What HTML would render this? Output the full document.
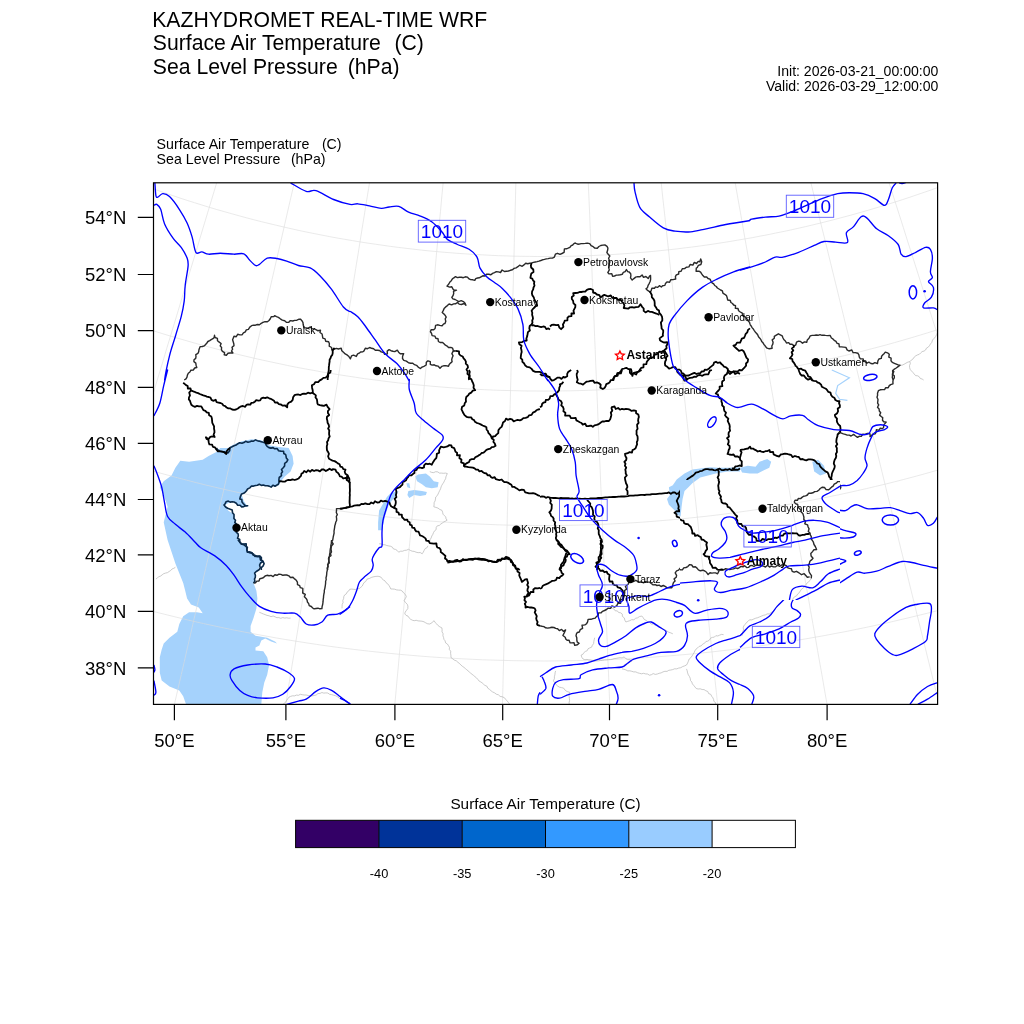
<!DOCTYPE html>
<html><head><meta charset="utf-8"><title>KAZHYDROMET REAL-TIME WRF</title><style>
html,body{margin:0;padding:0;background:#fff;width:1024px;height:1024px;overflow:hidden}
svg{display:block}
text{font-family:"Liberation Sans",Arial,Helvetica,sans-serif;fill:#000}
</style></head><body>
<svg width="1024" height="1024" viewBox="0 0 1024 1024">
<rect width="1024" height="1024" fill="#fff"/>
<g font-size="21.2">
<text x="152.2" y="27">KAZHYDROMET REAL-TIME WRF</text>
<text x="152.8" y="50.3">Surface Air Temperature</text>
<text x="394.5" y="50.3">(C)</text>
<text x="152.8" y="73.7">Sea Level Pressure</text>
<text x="347.7" y="73.7">(hPa)</text>
</g>
<g font-size="14.07">
<text x="777.3" y="75.7">Init: 2026-03-21_00:00:00</text>
<text x="765.9" y="91.1">Valid: 2026-03-29_12:00:00</text>
</g>
<g font-size="14.2">
<text x="156.6" y="148.6">Surface Air Temperature</text>
<text x="321.9" y="148.6">(C)</text>
<text x="156.6" y="164.2">Sea Level Pressure</text>
<text x="290.9" y="164.2">(hPa)</text>
</g>
<defs><clipPath id="mc"><rect x="153.5" y="182.8" width="784.1" height="521.6"/></clipPath><clipPath id="ex"><path clip-rule="evenodd" d="M0 0H1024V1024H0ZM680 480V600H840V480Z"/></clipPath><clipPath id="pc0"><rect x="680" y="480" width="160" height="120"/></clipPath></defs>
<g clip-path="url(#mc)">
<g fill="#a5d2fc" stroke="none">
<path d="M180.3 460.8 L189.1 461.8 L202.7 459.8 L208.6 455.9 L216.4 452.0 L220.3 448.1 L228.1 448.1 L234.0 444.2 L241.8 441.3 L251.6 439.3 L261.3 440.3 L269.1 445.2 L278.9 447.1 L288.7 448.1 L292.6 455.9 L293.6 463.8 L290.6 471.6 L284.8 476.4 L280.9 481.3 L278.9 485.2 L271.1 486.2 L263.3 485.2 L255.5 485.2 L249.6 487.2 L245.7 491.1 L241.8 495.0 L243.8 500.9 L247.7 506.7 L241.8 506.7 L232.0 500.9 L225.2 504.8 L228.1 510.6 L234.0 514.5 L235.9 524.3 L237.9 540.0 L239.8 542.9 L245.7 543.9 L247.7 551.7 L255.5 555.6 L261.3 557.6 L262.3 561.5 L259.4 567.3 L255.5 573.2 L253.5 583.0 L256.4 590.8 L257.4 598.6 L256.4 608.4 L253.5 618.1 L250.6 625.9 L250.6 631.8 L255.5 635.7 L267.2 637.7 L275.0 641.6 L277.0 643.5 L271.1 641.6 L265.2 638.6 L261.3 640.6 L259.4 645.5 L255.5 647.4 L255.5 650.4 L263.3 651.3 L267.2 657.2 L269.1 665.0 L267.2 674.8 L264.3 682.6 L262.3 692.3 L261.3 704.5 L186.1 704.5 L183.2 696.2 L179.3 690.4 L169.5 686.5 L161.7 680.6 L159.8 672.8 L159.8 657.2 L161.7 649.4 L163.7 643.5 L169.5 637.7 L177.3 631.8 L179.3 624.0 L183.2 616.2 L189.1 612.3 L196.9 612.3 L202.7 613.2 L198.8 607.4 L191.0 604.5 L187.1 598.6 L185.2 590.8 L183.2 583.0 L179.3 573.2 L175.4 563.4 L171.5 551.7 L167.6 540.0 L163.7 522.3 L167.6 506.7 L163.7 495.0 L159.8 487.2 L163.7 481.3 L171.5 475.5 L175.4 467.7Z"/>
<path d="M415.2 476.4 L418.1 474.5 L425.9 473.5 L429.8 476.4 L433.8 481.3 L438.6 482.3 L437.7 487.2 L431.8 488.2 L425.9 487.2 L422.0 484.3 L417.1 481.3Z"/>
<path d="M408.4 491.1 L414.2 490.1 L422.0 491.1 L426.9 492.1 L425.9 495.0 L420.1 496.0 L414.2 495.0 L409.3 497.9 L407.4 495.0Z"/>
<path d="M406.4 483.3 L409.3 483.3 L410.3 488.2 L407.4 487.2Z"/>
<path d="M379.1 510.6 L386.9 497.0 L390.8 493.0 L398.6 491.1 L394.7 497.0 L388.8 504.8 L384.9 516.5 L382.0 530.2 L378.1 530.2 L378.1 522.3Z"/>
<path d="M668.9 487.2 L672.8 485.2 L676.7 479.4 L684.5 473.5 L692.3 469.6 L700.2 468.6 L709.9 467.3 L717.7 467.7 L727.5 467.7 L740.0 467.3 L740.0 471.6 L727.5 471.6 L715.8 473.5 L708.0 475.5 L700.2 477.4 L692.3 483.3 L688.4 487.2 L684.5 491.1 L682.6 498.9 L681.6 506.7 L680.6 516.5 L676.7 514.5 L674.8 510.6 L668.9 504.8 L667.0 498.9 L669.9 495.0Z"/>
<path d="M740.0 467.7 L747.8 465.7 L755.6 466.7 L759.5 461.8 L767.3 458.9 L771.2 461.8 L769.3 467.7 L763.4 470.6 L757.6 473.5 L749.8 473.5 L742.0 472.5Z"/>
<path d="M812.3 461.8 L818.1 459.8 L824.0 465.7 L825.9 473.5 L820.1 475.5 L814.2 471.6Z"/>
</g>
<g fill="none" stroke="#a5d2fc" stroke-width="1.2">
<path d="M831.8 370.0 L849.4 377.8 L837.7 385.6 L835.7 393.4 L839.6 399.3 L847.4 400.3"/>
</g>
<g fill="none" stroke="#dcdcdc" stroke-width="0.6">
<path d="M-276.7 904.9 L-270.6 891.6 L-264.6 878.4 L-258.6 865.2 L-252.7 852.0 L-246.7 838.9 L-240.8 825.8 L-234.9 812.8 L-228.9 799.8 L-223.1 786.8 L-217.2 773.9 L-211.3 761.0 L-205.5 748.1 L-199.7 735.3 L-193.9 722.4 L-188.1 709.7 L-182.3 696.9 L-176.5 684.2 L-170.8 671.5 L-165.0 658.9 L-159.3 646.2 L-153.6 633.6 L-147.9 621.1 L-142.2 608.5 L-136.5 596.0 L-130.8 583.4 L-125.1 571.0 L-119.5 558.5 L-113.8 546.0 L-108.2 533.6 L-102.5 521.2 L-96.9 508.8 L-91.3 496.4 L-85.7 484.1 L-80.1 471.7 L-74.5 459.4 L-68.9 447.0 L-63.3 434.7 L-57.7 422.4 L-52.2 410.1 L-46.6 397.9 L-41.0 385.6 L-35.5 373.3 L-29.9 361.1 L-24.3 348.8 L-18.8 336.6 L-13.2 324.3 L-7.7 312.1 L-2.1 299.9 L3.4 287.6 L9.0 275.4 L14.5 263.2 L20.1 250.9 L25.6 238.7 L31.2 226.5 L36.7 214.2 L42.3 202.0 L47.9 189.7 L53.4 177.5 L59.0 165.2 L64.6 152.9 L70.1 140.6 L75.7 128.3 L81.3 116.0 L86.9 103.7 L92.5 91.3 L98.1 79.0 L103.7 66.6 L109.3 54.2 L115.0 41.8 L120.6 29.4 L126.3 16.9 L131.9 4.4 L137.6 -8.1 L143.3 -20.6 L149.0 -33.1 L154.7 -45.7 L160.4 -58.3 L166.2 -71.0 L171.9 -83.7 L177.7 -96.4 L183.5 -109.1"/>
<path d="M-154.3 955.6 L-149.2 941.9 L-144.1 928.3 L-139.0 914.7 L-133.9 901.2 L-128.8 887.7 L-123.8 874.3 L-118.7 860.9 L-113.7 847.5 L-108.7 834.2 L-103.7 820.9 L-98.7 807.6 L-93.8 794.4 L-88.8 781.2 L-83.9 768.0 L-78.9 754.9 L-74.0 741.8 L-69.1 728.7 L-64.2 715.7 L-59.3 702.6 L-54.4 689.7 L-49.6 676.7 L-44.7 663.8 L-39.9 650.9 L-35.0 638.0 L-30.2 625.1 L-25.4 612.3 L-20.6 599.5 L-15.7 586.7 L-10.9 573.9 L-6.2 561.1 L-1.4 548.4 L3.4 535.6 L8.2 522.9 L13.0 510.2 L17.7 497.6 L22.5 484.9 L27.2 472.2 L32.0 459.6 L36.7 447.0 L41.5 434.3 L46.2 421.7 L50.9 409.1 L55.7 396.5 L60.4 383.9 L65.1 371.3 L69.8 358.7 L74.6 346.2 L79.3 333.6 L84.0 321.0 L88.7 308.4 L93.5 295.9 L98.2 283.3 L102.9 270.7 L107.6 258.1 L112.4 245.5 L117.1 232.9 L121.8 220.3 L126.6 207.7 L131.3 195.1 L136.0 182.5 L140.8 169.9 L145.5 157.2 L150.3 144.6 L155.0 131.9 L159.8 119.2 L164.6 106.5 L169.3 93.8 L174.1 81.1 L178.9 68.3 L183.7 55.5 L188.5 42.7 L193.3 29.9 L198.2 17.0 L203.0 4.2 L207.9 -8.8 L212.7 -21.7 L217.6 -34.7 L222.5 -47.7 L227.4 -60.7 L232.3 -73.8 L237.2 -86.9"/>
<path d="M-28.8 998.0 L-24.6 984.0 L-20.4 970.1 L-16.2 956.2 L-12.1 942.4 L-7.9 928.6 L-3.8 914.8 L0.3 901.1 L4.5 887.4 L8.6 873.8 L12.7 860.2 L16.8 846.6 L20.8 833.1 L24.9 819.6 L29.0 806.1 L33.0 792.7 L37.0 779.3 L41.1 765.9 L45.1 752.6 L49.1 739.3 L53.1 726.0 L57.1 712.7 L61.1 699.5 L65.0 686.3 L69.0 673.1 L73.0 660.0 L76.9 646.8 L80.9 633.7 L84.8 620.6 L88.8 607.6 L92.7 594.5 L96.6 581.5 L100.5 568.5 L104.4 555.5 L108.4 542.5 L112.3 529.5 L116.2 516.5 L120.1 503.6 L124.0 490.7 L127.9 477.7 L131.7 464.8 L135.6 451.9 L139.5 439.0 L143.4 426.2 L147.3 413.3 L151.1 400.4 L155.0 387.5 L158.9 374.7 L162.8 361.8 L166.6 348.9 L170.5 336.1 L174.4 323.2 L178.3 310.3 L182.1 297.5 L186.0 284.6 L189.9 271.7 L193.8 258.9 L197.7 246.0 L201.5 233.1 L205.4 220.2 L209.3 207.3 L213.2 194.4 L217.1 181.4 L221.0 168.5 L224.9 155.5 L228.8 142.5 L232.7 129.5 L236.6 116.5 L240.6 103.5 L244.5 90.5 L248.4 77.4 L252.4 64.3 L256.3 51.2 L260.3 38.0 L264.3 24.8 L268.2 11.6 L272.2 -1.6 L276.2 -14.8 L280.2 -28.1 L284.2 -41.5 L288.3 -54.9 L292.3 -68.3"/>
<path d="M99.2 1031.9 L102.4 1017.7 L105.7 1003.5 L109.0 989.4 L112.2 975.3 L115.4 961.3 L118.6 947.3 L121.8 933.3 L125.0 919.4 L128.2 905.5 L131.4 891.7 L134.6 877.9 L137.7 864.1 L140.9 850.3 L144.0 836.6 L147.2 823.0 L150.3 809.3 L153.4 795.7 L156.6 782.2 L159.7 768.6 L162.8 755.1 L165.9 741.6 L169.0 728.1 L172.1 714.7 L175.1 701.3 L178.2 687.9 L181.3 674.5 L184.4 661.2 L187.4 647.8 L190.5 634.5 L193.5 621.3 L196.6 608.0 L199.6 594.7 L202.7 581.5 L205.7 568.3 L208.7 555.1 L211.8 541.9 L214.8 528.7 L217.8 515.6 L220.8 502.4 L223.9 489.3 L226.9 476.1 L229.9 463.0 L232.9 449.9 L235.9 436.8 L238.9 423.7 L241.9 410.6 L244.9 397.5 L247.9 384.4 L251.0 371.3 L254.0 358.2 L257.0 345.1 L260.0 332.0 L263.0 318.9 L266.0 305.8 L269.0 292.7 L272.0 279.6 L275.0 266.5 L278.0 253.4 L281.1 240.2 L284.1 227.1 L287.1 213.9 L290.1 200.8 L293.2 187.6 L296.2 174.4 L299.2 161.2 L302.3 148.0 L305.3 134.7 L308.3 121.5 L311.4 108.2 L314.5 94.9 L317.5 81.6 L320.6 68.2 L323.7 54.8 L326.7 41.4 L329.8 28.0 L332.9 14.5 L336.0 1.0 L339.1 -12.5 L342.2 -26.1 L345.4 -39.7 L348.5 -53.4"/>
<path d="M229.2 1057.3 L231.5 1042.9 L233.8 1028.5 L236.1 1014.2 L238.4 999.9 L240.7 985.7 L242.9 971.5 L245.2 957.4 L247.5 943.3 L249.7 929.2 L252.0 915.2 L254.2 901.2 L256.5 887.2 L258.7 873.3 L260.9 859.4 L263.1 845.6 L265.4 831.8 L267.6 818.0 L269.8 804.2 L272.0 790.5 L274.2 776.8 L276.4 763.1 L278.6 749.5 L280.7 735.9 L282.9 722.3 L285.1 708.7 L287.3 695.2 L289.4 681.6 L291.6 668.1 L293.8 654.7 L295.9 641.2 L298.1 627.8 L300.2 614.3 L302.4 600.9 L304.5 587.5 L306.7 574.2 L308.8 560.8 L311.0 547.5 L313.1 534.1 L315.3 520.8 L317.4 507.5 L319.5 494.2 L321.7 480.9 L323.8 467.6 L325.9 454.3 L328.1 441.0 L330.2 427.8 L332.3 414.5 L334.4 401.2 L336.6 388.0 L338.7 374.7 L340.8 361.4 L343.0 348.2 L345.1 334.9 L347.2 321.6 L349.3 308.4 L351.5 295.1 L353.6 281.8 L355.7 268.5 L357.9 255.2 L360.0 241.9 L362.1 228.6 L364.3 215.2 L366.4 201.9 L368.6 188.5 L370.7 175.1 L372.9 161.7 L375.0 148.3 L377.2 134.9 L379.3 121.4 L381.5 108.0 L383.7 94.4 L385.8 80.9 L388.0 67.4 L390.2 53.8 L392.4 40.2 L394.6 26.5 L396.8 12.8 L399.0 -0.9 L401.2 -14.6 L403.4 -28.4 L405.6 -42.2"/>
<path d="M360.6 1073.9 L361.9 1059.3 L363.3 1044.9 L364.6 1030.4 L365.9 1016.0 L367.3 1001.7 L368.6 987.4 L369.9 973.1 L371.2 958.9 L372.5 944.7 L373.8 930.6 L375.2 916.5 L376.5 902.4 L377.8 888.4 L379.1 874.4 L380.3 860.4 L381.6 846.5 L382.9 832.5 L384.2 818.7 L385.5 804.8 L386.8 791.0 L388.1 777.2 L389.3 763.5 L390.6 749.8 L391.9 736.0 L393.1 722.4 L394.4 708.7 L395.7 695.1 L396.9 681.5 L398.2 667.9 L399.4 654.3 L400.7 640.7 L402.0 627.2 L403.2 613.7 L404.5 600.2 L405.7 586.7 L407.0 573.2 L408.2 559.8 L409.4 546.3 L410.7 532.9 L411.9 519.4 L413.2 506.0 L414.4 492.6 L415.7 479.2 L416.9 465.8 L418.1 452.4 L419.4 439.0 L420.6 425.7 L421.9 412.3 L423.1 398.9 L424.3 385.5 L425.6 372.2 L426.8 358.8 L428.1 345.4 L429.3 332.0 L430.5 318.6 L431.8 305.2 L433.0 291.8 L434.3 278.4 L435.5 265.0 L436.7 251.6 L438.0 238.2 L439.2 224.7 L440.5 211.2 L441.7 197.8 L443.0 184.3 L444.2 170.8 L445.5 157.2 L446.7 143.7 L448.0 130.1 L449.3 116.5 L450.5 102.9 L451.8 89.3 L453.1 75.6 L454.3 61.9 L455.6 48.2 L456.9 34.4 L458.1 20.6 L459.4 6.8 L460.7 -7.1 L462.0 -21.0 L463.3 -34.9"/>
<path d="M492.8 1081.7 L493.2 1067.1 L493.5 1052.6 L493.9 1038.1 L494.3 1023.6 L494.6 1009.2 L495.0 994.9 L495.4 980.5 L495.7 966.3 L496.1 952.0 L496.5 937.8 L496.8 923.6 L497.2 909.5 L497.6 895.4 L497.9 881.4 L498.3 867.4 L498.6 853.4 L499.0 839.4 L499.4 825.5 L499.7 811.6 L500.1 797.7 L500.4 783.9 L500.8 770.1 L501.1 756.3 L501.5 742.5 L501.8 728.8 L502.2 715.1 L502.5 701.4 L502.9 687.7 L503.2 674.1 L503.6 660.4 L503.9 646.8 L504.3 633.2 L504.6 619.7 L505.0 606.1 L505.3 592.6 L505.7 579.0 L506.0 565.5 L506.4 552.0 L506.7 538.5 L507.1 525.1 L507.4 511.6 L507.8 498.1 L508.1 484.7 L508.4 471.2 L508.8 457.8 L509.1 444.3 L509.5 430.9 L509.8 417.5 L510.2 404.1 L510.5 390.6 L510.9 377.2 L511.2 363.8 L511.6 350.3 L511.9 336.9 L512.2 323.5 L512.6 310.0 L512.9 296.6 L513.3 283.1 L513.6 269.6 L514.0 256.2 L514.3 242.7 L514.7 229.2 L515.0 215.6 L515.4 202.1 L515.7 188.6 L516.1 175.0 L516.4 161.4 L516.7 147.8 L517.1 134.2 L517.4 120.5 L517.8 106.9 L518.2 93.2 L518.5 79.5 L518.9 65.7 L519.2 51.9 L519.6 38.1 L519.9 24.3 L520.3 10.4 L520.6 -3.6 L521.0 -17.5 L521.4 -31.5"/>
<path d="M625.2 1080.7 L624.6 1066.1 L624.0 1051.6 L623.4 1037.1 L622.8 1022.6 L622.2 1008.2 L621.7 993.9 L621.1 979.6 L620.5 965.3 L619.9 951.1 L619.3 936.9 L618.7 922.7 L618.1 908.6 L617.6 894.5 L617.0 880.5 L616.4 866.4 L615.8 852.5 L615.3 838.5 L614.7 824.6 L614.1 810.7 L613.6 796.8 L613.0 783.0 L612.4 769.2 L611.9 755.4 L611.3 741.7 L610.7 727.9 L610.2 714.2 L609.6 700.6 L609.0 686.9 L608.5 673.3 L607.9 659.6 L607.4 646.0 L606.8 632.5 L606.2 618.9 L605.7 605.3 L605.1 591.8 L604.6 578.3 L604.0 564.8 L603.5 551.3 L602.9 537.8 L602.4 524.3 L601.8 510.9 L601.3 497.4 L600.7 484.0 L600.2 470.5 L599.6 457.1 L599.0 443.7 L598.5 430.2 L597.9 416.8 L597.4 403.4 L596.8 390.0 L596.3 376.5 L595.7 363.1 L595.2 349.7 L594.6 336.3 L594.1 322.8 L593.5 309.4 L593.0 295.9 L592.4 282.5 L591.9 269.0 L591.3 255.6 L590.8 242.1 L590.2 228.6 L589.7 215.1 L589.1 201.5 L588.5 188.0 L588.0 174.5 L587.4 160.9 L586.9 147.3 L586.3 133.7 L585.8 120.0 L585.2 106.4 L584.6 92.7 L584.1 78.9 L583.5 65.2 L582.9 51.4 L582.4 37.6 L581.8 23.8 L581.2 9.9 L580.7 -4.0 L580.1 -18.0 L579.5 -32.0"/>
<path d="M757.3 1070.8 L755.7 1056.3 L754.2 1041.9 L752.6 1027.4 L751.0 1013.1 L749.5 998.7 L747.9 984.5 L746.4 970.2 L744.9 956.0 L743.3 941.9 L741.8 927.7 L740.3 913.6 L738.8 899.6 L737.2 885.6 L735.7 871.6 L734.2 857.7 L732.7 843.7 L731.2 829.9 L729.7 816.0 L728.2 802.2 L726.7 788.4 L725.2 774.6 L723.8 760.9 L722.3 747.2 L720.8 733.5 L719.3 719.9 L717.8 706.2 L716.4 692.6 L714.9 679.0 L713.4 665.4 L712.0 651.9 L710.5 638.4 L709.0 624.8 L707.6 611.3 L706.1 597.9 L704.7 584.4 L703.2 570.9 L701.7 557.5 L700.3 544.1 L698.8 530.6 L697.4 517.2 L695.9 503.8 L694.5 490.5 L693.0 477.1 L691.6 463.7 L690.2 450.3 L688.7 437.0 L687.3 423.6 L685.8 410.3 L684.4 396.9 L682.9 383.5 L681.5 370.2 L680.0 356.8 L678.6 343.5 L677.1 330.1 L675.7 316.7 L674.3 303.4 L672.8 290.0 L671.4 276.6 L669.9 263.2 L668.5 249.8 L667.0 236.4 L665.6 223.0 L664.1 209.5 L662.6 196.1 L661.2 182.6 L659.7 169.1 L658.3 155.6 L656.8 142.1 L655.3 128.5 L653.9 114.9 L652.4 101.3 L650.9 87.7 L649.4 74.1 L648.0 60.4 L646.5 46.7 L645.0 33.0 L643.5 19.2 L642.0 5.4 L640.5 -8.5 L639.0 -22.4 L637.5 -36.3"/>
<path d="M888.4 1052.2 L885.9 1037.8 L883.4 1023.5 L880.8 1009.2 L878.3 995.0 L875.8 980.8 L873.3 966.6 L870.8 952.5 L868.4 938.5 L865.9 924.4 L863.4 910.5 L861.0 896.5 L858.5 882.6 L856.1 868.7 L853.6 854.9 L851.2 841.0 L848.8 827.3 L846.3 813.5 L843.9 799.8 L841.5 786.1 L839.1 772.4 L836.7 758.8 L834.3 745.2 L831.9 731.6 L829.5 718.1 L827.1 704.5 L824.7 691.0 L822.4 677.5 L820.0 664.1 L817.6 650.6 L815.3 637.2 L812.9 623.8 L810.5 610.4 L808.2 597.0 L805.8 583.7 L803.5 570.3 L801.1 557.0 L798.8 543.7 L796.4 530.4 L794.1 517.1 L791.7 503.8 L789.4 490.6 L787.1 477.3 L784.7 464.0 L782.4 450.8 L780.1 437.6 L777.7 424.3 L775.4 411.1 L773.1 397.9 L770.7 384.6 L768.4 371.4 L766.1 358.2 L763.7 344.9 L761.4 331.7 L759.1 318.5 L756.7 305.2 L754.4 292.0 L752.1 278.7 L749.7 265.5 L747.4 252.2 L745.0 238.9 L742.7 225.6 L740.4 212.3 L738.0 199.0 L735.7 185.7 L733.3 172.3 L731.0 159.0 L728.6 145.6 L726.2 132.2 L723.9 118.8 L721.5 105.3 L719.1 91.9 L716.7 78.4 L714.4 64.9 L712.0 51.3 L709.6 37.7 L707.2 24.1 L704.8 10.5 L702.4 -3.2 L699.9 -16.9 L697.5 -30.7 L695.1 -44.5"/>
<path d="M1018.0 1024.9 L1014.5 1010.7 L1011.0 996.6 L1007.6 982.5 L1004.1 968.5 L1000.7 954.5 L997.2 940.5 L993.8 926.6 L990.4 912.7 L987.0 898.9 L983.6 885.1 L980.2 871.3 L976.9 857.6 L973.5 843.9 L970.1 830.3 L966.8 816.7 L963.4 803.1 L960.1 789.5 L956.8 776.0 L953.5 762.5 L950.1 749.0 L946.8 735.6 L943.5 722.2 L940.2 708.8 L937.0 695.4 L933.7 682.1 L930.4 668.7 L927.1 655.4 L923.9 642.2 L920.6 628.9 L917.3 615.7 L914.1 602.5 L910.8 589.3 L907.6 576.1 L904.4 562.9 L901.1 549.8 L897.9 536.6 L894.7 523.5 L891.4 510.4 L888.2 497.3 L885.0 484.2 L881.8 471.1 L878.6 458.0 L875.3 444.9 L872.1 431.9 L868.9 418.8 L865.7 405.8 L862.5 392.7 L859.3 379.7 L856.1 366.6 L852.9 353.6 L849.7 340.5 L846.4 327.5 L843.2 314.4 L840.0 301.4 L836.8 288.3 L833.6 275.3 L830.4 262.2 L827.2 249.1 L824.0 236.1 L820.7 223.0 L817.5 209.9 L814.3 196.7 L811.1 183.6 L807.8 170.5 L804.6 157.3 L801.3 144.1 L798.1 130.9 L794.8 117.7 L791.6 104.5 L788.3 91.2 L785.1 78.0 L781.8 64.7 L778.5 51.3 L775.2 38.0 L771.9 24.6 L768.6 11.2 L765.3 -2.3 L762.0 -15.8 L758.7 -29.3 L755.3 -42.9 L752.0 -56.5"/>
<path d="M1145.5 989.0 L1141.1 975.1 L1136.6 961.2 L1132.3 947.4 L1127.9 933.6 L1123.5 919.9 L1119.2 906.2 L1114.8 892.5 L1110.5 878.9 L1106.2 865.3 L1101.9 851.8 L1097.6 838.3 L1093.3 824.8 L1089.0 811.4 L1084.7 798.0 L1080.5 784.6 L1076.3 771.3 L1072.0 758.0 L1067.8 744.7 L1063.6 731.5 L1059.4 718.3 L1055.2 705.1 L1051.0 691.9 L1046.8 678.8 L1042.6 665.6 L1038.5 652.5 L1034.3 639.5 L1030.2 626.4 L1026.0 613.4 L1021.9 600.4 L1017.8 587.4 L1013.6 574.4 L1009.5 561.5 L1005.4 548.5 L1001.3 535.6 L997.2 522.7 L993.1 509.8 L989.0 496.9 L984.9 484.0 L980.8 471.2 L976.7 458.3 L972.6 445.5 L968.6 432.7 L964.5 419.8 L960.4 407.0 L956.3 394.2 L952.2 381.4 L948.2 368.6 L944.1 355.8 L940.0 343.0 L936.0 330.2 L931.9 317.4 L927.8 304.6 L923.7 291.8 L919.7 279.0 L915.6 266.2 L911.5 253.3 L907.4 240.5 L903.4 227.7 L899.3 214.8 L895.2 202.0 L891.1 189.1 L887.0 176.3 L882.9 163.4 L878.8 150.5 L874.7 137.6 L870.6 124.6 L866.5 111.7 L862.3 98.7 L858.2 85.7 L854.1 72.7 L849.9 59.7 L845.8 46.6 L841.6 33.5 L837.4 20.4 L833.3 7.3 L829.1 -5.9 L824.9 -19.1 L820.7 -32.3 L816.4 -45.6 L812.2 -58.9 L808.0 -72.2"/>
<path d="M1270.3 944.6 L1264.9 931.0 L1259.6 917.5 L1254.3 904.0 L1249.0 890.6 L1243.7 877.2 L1238.5 863.8 L1233.2 850.5 L1228.0 837.2 L1222.8 823.9 L1217.6 810.7 L1212.4 797.5 L1207.3 784.3 L1202.1 771.2 L1197.0 758.1 L1191.8 745.1 L1186.7 732.1 L1181.6 719.1 L1176.5 706.1 L1171.4 693.2 L1166.3 680.3 L1161.3 667.4 L1156.2 654.5 L1151.2 641.7 L1146.1 628.9 L1141.1 616.1 L1136.1 603.3 L1131.1 590.6 L1126.1 577.9 L1121.1 565.2 L1116.1 552.5 L1111.1 539.8 L1106.1 527.2 L1101.2 514.5 L1096.2 501.9 L1091.2 489.3 L1086.3 476.7 L1081.3 464.1 L1076.4 451.5 L1071.5 439.0 L1066.5 426.4 L1061.6 413.9 L1056.7 401.4 L1051.7 388.8 L1046.8 376.3 L1041.9 363.8 L1037.0 351.3 L1032.1 338.8 L1027.1 326.3 L1022.2 313.8 L1017.3 301.3 L1012.4 288.8 L1007.5 276.3 L1002.6 263.8 L997.6 251.3 L992.7 238.8 L987.8 226.2 L982.9 213.7 L977.9 201.2 L973.0 188.6 L968.1 176.1 L963.1 163.5 L958.2 151.0 L953.3 138.4 L948.3 125.8 L943.3 113.2 L938.4 100.6 L933.4 87.9 L928.4 75.2 L923.4 62.6 L918.4 49.9 L913.4 37.1 L908.4 24.4 L903.4 11.6 L898.4 -1.2 L893.3 -14.0 L888.3 -26.9 L883.2 -39.8 L878.1 -52.7 L873.0 -65.7 L867.9 -78.7 L862.8 -91.7"/>
<path d="M-327.3 719.4 L-316.5 725.2 L-305.6 730.9 L-294.7 736.5 L-283.7 742.1 L-272.7 747.5 L-261.7 753.0 L-250.6 758.3 L-239.5 763.6 L-228.4 768.7 L-217.2 773.9 L-206.0 778.9 L-194.7 783.9 L-183.5 788.8 L-172.2 793.6 L-160.8 798.3 L-149.5 803.0 L-138.1 807.6 L-126.6 812.1 L-115.2 816.5 L-103.7 820.9 L-92.2 825.1 L-80.6 829.3 L-69.1 833.5 L-57.5 837.5 L-45.8 841.5 L-34.2 845.4 L-22.5 849.2 L-10.8 852.9 L0.9 856.6 L12.7 860.2 L24.4 863.7 L36.2 867.1 L48.1 870.5 L59.9 873.7 L71.8 876.9 L83.7 880.0 L95.6 883.1 L107.5 886.0 L119.4 888.9 L131.4 891.7 L143.4 894.4 L155.4 897.0 L167.4 899.6 L179.4 902.0 L191.5 904.4 L203.6 906.7 L215.6 909.0 L227.7 911.1 L239.9 913.2 L252.0 915.2 L264.1 917.1 L276.3 918.9 L288.4 920.6 L300.6 922.3 L312.8 923.9 L325.0 925.4 L337.2 926.8 L349.4 928.1 L361.6 929.4 L373.8 930.6 L386.1 931.7 L398.3 932.7 L410.6 933.6 L422.8 934.4 L435.1 935.2 L447.4 935.9 L459.6 936.5 L471.9 937.0 L484.2 937.5 L496.5 937.8 L508.8 938.1 L521.0 938.3 L533.3 938.4 L545.6 938.4 L557.9 938.4 L570.2 938.2 L582.5 938.0 L594.8 937.7 L607.0 937.3 L619.3 936.9 L631.6 936.3 L643.9 935.7 L656.1 935.0 L668.4 934.2 L680.6 933.3 L692.9 932.4 L705.1 931.3 L717.4 930.2 L729.6 929.0 L741.8 927.7 L754.0 926.4 L766.2 924.9 L778.4 923.4 L790.6 921.8 L802.8 920.1 L814.9 918.3 L827.1 916.5 L839.2 914.6 L851.3 912.5 L863.4 910.5 L875.5 908.3 L887.6 906.0 L899.7 903.7 L911.7 901.3 L923.7 898.8 L935.7 896.2 L947.7 893.6 L959.7 890.8 L971.7 888.0 L983.6 885.1 L995.5 882.1 L1007.4 879.1 L1019.3 875.9 L1031.2 872.7 L1043.0 869.4 L1054.8 866.1 L1066.6 862.6 L1078.4 859.1 L1090.1 855.5 L1101.9 851.8 L1113.6 848.0 L1125.2 844.2 L1136.9 840.3 L1148.5 836.3 L1160.1 832.2 L1171.6 828.1 L1183.2 823.8 L1194.7 819.5 L1206.2 815.1 L1217.6 810.7 L1229.0 806.2 L1240.4 801.5 L1251.8 796.9 L1263.1 792.1 L1274.4 787.3 L1285.7 782.3 L1296.9 777.4 L1308.1 772.3 L1319.2 767.2 L1330.4 761.9 L1341.5 756.7"/>
<path d="M-261.0 595.9 L-251.0 601.3 L-240.9 606.5 L-230.9 611.7 L-220.7 616.9 L-210.6 621.9 L-200.4 626.9 L-190.2 631.9 L-179.9 636.7 L-169.6 641.5 L-159.3 646.2 L-148.9 650.9 L-138.6 655.5 L-128.1 660.0 L-117.7 664.4 L-107.2 668.8 L-96.7 673.1 L-86.2 677.4 L-75.6 681.5 L-65.0 685.6 L-54.4 689.7 L-43.8 693.6 L-33.1 697.5 L-22.4 701.3 L-11.7 705.1 L-1.0 708.7 L9.8 712.3 L20.6 715.9 L31.4 719.3 L42.2 722.7 L53.1 726.0 L64.0 729.2 L74.9 732.4 L85.8 735.5 L96.7 738.5 L107.7 741.5 L118.7 744.3 L129.7 747.1 L140.7 749.9 L151.7 752.5 L162.8 755.1 L173.9 757.6 L184.9 760.0 L196.0 762.4 L207.2 764.7 L218.3 766.9 L229.5 769.0 L240.6 771.1 L251.8 773.0 L263.0 775.0 L274.2 776.8 L285.4 778.6 L296.6 780.2 L307.9 781.8 L319.1 783.4 L330.4 784.8 L341.6 786.2 L352.9 787.5 L364.2 788.8 L375.5 789.9 L386.8 791.0 L398.1 792.0 L409.4 793.0 L420.7 793.8 L432.0 794.6 L443.4 795.3 L454.7 795.9 L466.0 796.5 L477.4 797.0 L488.7 797.4 L500.1 797.7 L511.4 798.0 L522.8 798.1 L534.1 798.3 L545.5 798.3 L556.8 798.2 L568.2 798.1 L579.5 797.9 L590.9 797.6 L602.2 797.3 L613.6 796.8 L624.9 796.3 L636.2 795.8 L647.6 795.1 L658.9 794.4 L670.2 793.6 L681.5 792.7 L692.8 791.7 L704.1 790.7 L715.4 789.6 L726.7 788.4 L738.0 787.1 L749.3 785.8 L760.5 784.4 L771.8 782.9 L783.0 781.4 L794.3 779.7 L805.5 778.0 L816.7 776.2 L827.9 774.4 L839.1 772.4 L850.3 770.4 L861.4 768.4 L872.6 766.2 L883.7 764.0 L894.8 761.7 L905.9 759.3 L917.0 756.8 L928.1 754.3 L939.1 751.7 L950.1 749.0 L961.2 746.3 L972.2 743.5 L983.1 740.6 L994.1 737.6 L1005.0 734.5 L1015.9 731.4 L1026.8 728.2 L1037.7 725.0 L1048.6 721.7 L1059.4 718.3 L1070.2 714.8 L1081.0 711.2 L1091.7 707.6 L1102.5 703.9 L1113.2 700.1 L1123.9 696.3 L1134.5 692.4 L1145.1 688.4 L1155.7 684.4 L1166.3 680.3 L1176.9 676.1 L1187.4 671.8 L1197.9 667.5 L1208.4 663.1 L1218.8 658.6 L1229.2 654.1 L1239.6 649.5 L1249.9 644.8 L1260.2 640.0 L1270.5 635.2 L1280.7 630.4"/>
<path d="M-196.1 474.9 L-186.9 479.8 L-177.6 484.7 L-168.3 489.5 L-159.0 494.2 L-149.7 498.8 L-140.3 503.4 L-130.9 508.0 L-121.5 512.4 L-112.0 516.9 L-102.5 521.2 L-93.0 525.5 L-83.5 529.7 L-73.9 533.8 L-64.3 537.9 L-54.7 542.0 L-45.0 545.9 L-35.3 549.8 L-25.6 553.6 L-15.9 557.4 L-6.2 561.1 L3.6 564.7 L13.4 568.3 L23.3 571.8 L33.1 575.3 L43.0 578.6 L52.9 581.9 L62.8 585.2 L72.7 588.4 L82.7 591.5 L92.7 594.5 L102.7 597.5 L112.7 600.4 L122.7 603.2 L132.8 606.0 L142.9 608.7 L153.0 611.4 L163.1 613.9 L173.2 616.4 L183.4 618.9 L193.5 621.3 L203.7 623.6 L213.9 625.8 L224.1 628.0 L234.3 630.1 L244.6 632.1 L254.8 634.0 L265.1 635.9 L275.4 637.8 L285.6 639.5 L295.9 641.2 L306.2 642.8 L316.6 644.4 L326.9 645.9 L337.2 647.3 L347.6 648.6 L357.9 649.9 L368.3 651.1 L378.7 652.2 L389.1 653.3 L399.4 654.3 L409.8 655.2 L420.2 656.1 L430.6 656.9 L441.1 657.6 L451.5 658.2 L461.9 658.8 L472.3 659.3 L482.7 659.8 L493.2 660.1 L503.6 660.4 L514.0 660.7 L524.5 660.8 L534.9 660.9 L545.3 661.0 L555.8 660.9 L566.2 660.8 L576.6 660.6 L587.1 660.4 L597.5 660.0 L607.9 659.6 L618.3 659.2 L628.8 658.6 L639.2 658.0 L649.6 657.4 L660.0 656.6 L670.4 655.8 L680.8 654.9 L691.2 654.0 L701.6 653.0 L712.0 651.9 L722.3 650.7 L732.7 649.5 L743.0 648.2 L753.4 646.8 L763.7 645.4 L774.1 643.9 L784.4 642.3 L794.7 640.7 L805.0 639.0 L815.3 637.2 L825.5 635.4 L835.8 633.4 L846.0 631.5 L856.3 629.4 L866.5 627.3 L876.7 625.1 L886.9 622.9 L897.0 620.5 L907.2 618.1 L917.3 615.7 L927.5 613.2 L937.6 610.6 L947.7 607.9 L957.7 605.2 L967.8 602.4 L977.8 599.5 L987.8 596.6 L997.8 593.6 L1007.8 590.5 L1017.8 587.4 L1027.7 584.2 L1037.6 580.9 L1047.5 577.6 L1057.4 574.2 L1067.2 570.8 L1077.0 567.2 L1086.8 563.6 L1096.6 560.0 L1106.4 556.3 L1116.1 552.5 L1125.8 548.6 L1135.4 544.7 L1145.1 540.7 L1154.7 536.7 L1164.3 532.6 L1173.9 528.4 L1183.4 524.2 L1192.9 519.9 L1202.4 515.5 L1211.8 511.1 L1221.3 506.6"/>
<path d="M-132.0 355.6 L-123.6 360.1 L-115.2 364.5 L-106.7 368.9 L-98.2 373.2 L-89.6 377.5 L-81.1 381.7 L-72.5 385.8 L-63.9 389.9 L-55.3 393.9 L-46.6 397.9 L-37.9 401.8 L-29.2 405.6 L-20.4 409.4 L-11.7 413.2 L-2.9 416.8 L6.0 420.4 L14.8 424.0 L23.7 427.5 L32.5 430.9 L41.5 434.3 L50.4 437.6 L59.3 440.9 L68.3 444.1 L77.3 447.3 L86.3 450.3 L95.4 453.4 L104.4 456.3 L113.5 459.2 L122.6 462.1 L131.7 464.8 L140.9 467.6 L150.0 470.2 L159.2 472.8 L168.4 475.3 L177.6 477.8 L186.8 480.2 L196.1 482.6 L205.3 484.9 L214.6 487.1 L223.9 489.3 L233.2 491.4 L242.5 493.4 L251.8 495.4 L261.1 497.3 L270.5 499.2 L279.8 500.9 L289.2 502.7 L298.6 504.3 L308.0 505.9 L317.4 507.5 L326.8 509.0 L336.2 510.4 L345.7 511.7 L355.1 513.0 L364.6 514.3 L374.0 515.4 L383.5 516.5 L393.0 517.6 L402.4 518.5 L411.9 519.4 L421.4 520.3 L430.9 521.1 L440.4 521.8 L449.9 522.4 L459.5 523.0 L469.0 523.6 L478.5 524.0 L488.0 524.4 L497.5 524.8 L507.1 525.1 L516.6 525.3 L526.1 525.4 L535.7 525.5 L545.2 525.5 L554.7 525.5 L564.3 525.4 L573.8 525.2 L583.3 525.0 L592.8 524.7 L602.4 524.3 L611.9 523.9 L621.4 523.4 L630.9 522.9 L640.4 522.3 L649.9 521.6 L659.4 520.8 L668.9 520.0 L678.4 519.2 L687.9 518.2 L697.4 517.2 L706.9 516.2 L716.3 515.1 L725.8 513.9 L735.2 512.6 L744.7 511.3 L754.1 510.0 L763.5 508.5 L772.9 507.0 L782.4 505.5 L791.7 503.8 L801.1 502.1 L810.5 500.4 L819.9 498.6 L829.2 496.7 L838.5 494.8 L847.8 492.8 L857.2 490.7 L866.4 488.6 L875.7 486.4 L885.0 484.2 L894.2 481.9 L903.5 479.5 L912.7 477.1 L921.9 474.6 L931.1 472.0 L940.2 469.4 L949.4 466.7 L958.5 464.0 L967.6 461.2 L976.7 458.3 L985.8 455.4 L994.8 452.4 L1003.9 449.4 L1012.9 446.3 L1021.9 443.1 L1030.9 439.9 L1039.8 436.6 L1048.7 433.3 L1057.6 429.9 L1066.5 426.4 L1075.4 422.9 L1084.2 419.3 L1093.0 415.7 L1101.8 412.0 L1110.6 408.3 L1119.3 404.4 L1128.0 400.6 L1136.7 396.7 L1145.4 392.7 L1154.0 388.6 L1162.6 384.5"/>
<path d="M-68.4 237.1 L-60.8 241.2 L-53.1 245.2 L-45.5 249.2 L-37.8 253.1 L-30.0 256.9 L-22.3 260.7 L-14.5 264.5 L-6.7 268.2 L1.1 271.8 L9.0 275.4 L16.9 278.9 L24.8 282.4 L32.7 285.9 L40.6 289.3 L48.6 292.6 L56.6 295.9 L64.6 299.1 L72.6 302.3 L80.7 305.4 L88.7 308.4 L96.8 311.4 L104.9 314.4 L113.1 317.3 L121.2 320.1 L129.4 322.9 L137.6 325.7 L145.8 328.4 L154.0 331.0 L162.3 333.6 L170.5 336.1 L178.8 338.5 L187.1 340.9 L195.4 343.3 L203.7 345.6 L212.1 347.8 L220.4 350.0 L228.8 352.1 L237.2 354.2 L245.6 356.2 L254.0 358.2 L262.4 360.1 L270.8 361.9 L279.3 363.7 L287.7 365.5 L296.2 367.2 L304.7 368.8 L313.2 370.3 L321.7 371.9 L330.2 373.3 L338.7 374.7 L347.2 376.0 L355.8 377.3 L364.3 378.6 L372.9 379.7 L381.4 380.8 L390.0 381.9 L398.6 382.9 L407.2 383.8 L415.7 384.7 L424.3 385.5 L432.9 386.3 L441.5 387.0 L450.2 387.7 L458.8 388.3 L467.4 388.8 L476.0 389.3 L484.6 389.7 L493.3 390.1 L501.9 390.4 L510.5 390.6 L519.1 390.8 L527.8 391.0 L536.4 391.0 L545.1 391.1 L553.7 391.0 L562.3 390.9 L571.0 390.8 L579.6 390.6 L588.2 390.3 L596.8 390.0 L605.5 389.6 L614.1 389.1 L622.7 388.6 L631.3 388.1 L639.9 387.5 L648.5 386.8 L657.1 386.1 L665.7 385.3 L674.3 384.4 L682.9 383.5 L691.5 382.6 L700.1 381.6 L708.7 380.5 L717.2 379.4 L725.8 378.2 L734.3 376.9 L742.8 375.6 L751.4 374.3 L759.9 372.9 L768.4 371.4 L776.9 369.9 L785.4 368.3 L793.9 366.6 L802.3 365.0 L810.8 363.2 L819.2 361.4 L827.7 359.5 L836.1 357.6 L844.5 355.6 L852.9 353.6 L861.2 351.5 L869.6 349.3 L878.0 347.1 L886.3 344.9 L894.6 342.6 L902.9 340.2 L911.2 337.8 L919.5 335.3 L927.7 332.8 L936.0 330.2 L944.2 327.5 L952.4 324.8 L960.6 322.1 L968.7 319.3 L976.9 316.4 L985.0 313.5 L993.1 310.5 L1001.2 307.5 L1009.3 304.4 L1017.3 301.3 L1025.3 298.1 L1033.3 294.9 L1041.3 291.6 L1049.3 288.2 L1057.2 284.8 L1065.1 281.4 L1073.0 277.9 L1080.9 274.3 L1088.7 270.7 L1096.5 267.0 L1104.3 263.3"/>
<path d="M-4.8 118.6 L2.1 122.3 L8.9 125.8 L15.8 129.4 L22.7 132.9 L29.6 136.3 L36.6 139.7 L43.5 143.1 L50.5 146.4 L57.5 149.7 L64.6 152.9 L71.6 156.1 L78.7 159.2 L85.8 162.3 L92.9 165.3 L100.0 168.3 L107.2 171.2 L114.4 174.1 L121.6 177.0 L128.8 179.8 L136.0 182.5 L143.3 185.2 L150.6 187.9 L157.8 190.4 L165.1 193.0 L172.5 195.5 L179.8 198.0 L187.2 200.4 L194.5 202.7 L201.9 205.0 L209.3 207.3 L216.7 209.5 L224.2 211.6 L231.6 213.7 L239.1 215.8 L246.5 217.8 L254.0 219.8 L261.5 221.7 L269.0 223.5 L276.5 225.3 L284.1 227.1 L291.6 228.8 L299.2 230.5 L306.8 232.1 L314.3 233.6 L321.9 235.1 L329.5 236.6 L337.1 238.0 L344.7 239.3 L352.4 240.6 L360.0 241.9 L367.7 243.1 L375.3 244.2 L383.0 245.3 L390.6 246.4 L398.3 247.4 L406.0 248.3 L413.7 249.2 L421.4 250.1 L429.0 250.9 L436.7 251.6 L444.5 252.3 L452.2 252.9 L459.9 253.5 L467.6 254.0 L475.3 254.5 L483.0 254.9 L490.8 255.3 L498.5 255.7 L506.2 255.9 L514.0 256.2 L521.7 256.3 L529.4 256.4 L537.2 256.5 L544.9 256.5 L552.6 256.5 L560.4 256.4 L568.1 256.3 L575.9 256.1 L583.6 255.9 L591.3 255.6 L599.0 255.2 L606.8 254.8 L614.5 254.4 L622.2 253.9 L629.9 253.3 L637.7 252.7 L645.4 252.1 L653.1 251.4 L660.8 250.6 L668.5 249.8 L676.1 249.0 L683.8 248.0 L691.5 247.1 L699.2 246.1 L706.8 245.0 L714.5 243.9 L722.1 242.7 L729.8 241.5 L737.4 240.2 L745.0 238.9 L752.7 237.6 L760.3 236.1 L767.9 234.7 L775.4 233.1 L783.0 231.6 L790.6 230.0 L798.1 228.3 L805.7 226.6 L813.2 224.8 L820.7 223.0 L828.2 221.1 L835.7 219.2 L843.2 217.2 L850.7 215.2 L858.1 213.1 L865.6 211.0 L873.0 208.8 L880.4 206.6 L887.8 204.3 L895.2 202.0 L902.6 199.6 L909.9 197.2 L917.2 194.7 L924.6 192.2 L931.8 189.7 L939.1 187.0 L946.4 184.4 L953.6 181.7 L960.9 178.9 L968.1 176.1 L975.3 173.2 L982.4 170.3 L989.6 167.4 L996.7 164.4 L1003.8 161.3 L1010.9 158.3 L1018.0 155.1 L1025.0 151.9 L1032.1 148.7 L1039.1 145.4 L1046.1 142.1"/>
<path d="M59.4 -0.9 L65.4 2.3 L71.5 5.5 L77.5 8.6 L83.6 11.7 L89.7 14.8 L95.9 17.8 L102.0 20.7 L108.2 23.7 L114.4 26.5 L120.6 29.4 L126.8 32.2 L133.1 34.9 L139.4 37.7 L145.6 40.3 L151.9 43.0 L158.3 45.6 L164.6 48.1 L171.0 50.6 L177.3 53.1 L183.7 55.5 L190.1 57.9 L196.5 60.2 L203.0 62.5 L209.4 64.8 L215.9 67.0 L222.4 69.2 L228.9 71.3 L235.4 73.4 L241.9 75.4 L248.4 77.4 L255.0 79.3 L261.5 81.2 L268.1 83.1 L274.7 84.9 L281.3 86.7 L287.9 88.4 L294.5 90.1 L301.2 91.7 L307.8 93.3 L314.5 94.9 L321.1 96.4 L327.8 97.9 L334.5 99.3 L341.2 100.6 L347.9 102.0 L354.6 103.3 L361.3 104.5 L368.0 105.7 L374.8 106.8 L381.5 108.0 L388.2 109.0 L395.0 110.0 L401.8 111.0 L408.5 111.9 L415.3 112.8 L422.1 113.6 L428.9 114.4 L435.7 115.2 L442.5 115.9 L449.3 116.5 L456.1 117.1 L462.9 117.7 L469.7 118.2 L476.5 118.7 L483.3 119.1 L490.1 119.5 L497.0 119.8 L503.8 120.1 L510.6 120.3 L517.4 120.5 L524.3 120.7 L531.1 120.8 L537.9 120.9 L544.8 120.9 L551.6 120.9 L558.4 120.8 L565.3 120.7 L572.1 120.5 L578.9 120.3 L585.8 120.0 L592.6 119.7 L599.4 119.4 L606.2 119.0 L613.0 118.5 L619.9 118.1 L626.7 117.5 L633.5 116.9 L640.3 116.3 L647.1 115.7 L653.9 114.9 L660.7 114.2 L667.4 113.4 L674.2 112.5 L681.0 111.6 L687.8 110.7 L694.5 109.7 L701.3 108.7 L708.0 107.6 L714.8 106.5 L721.5 105.3 L728.2 104.1 L734.9 102.9 L741.6 101.6 L748.3 100.2 L755.0 98.8 L761.7 97.4 L768.4 95.9 L775.0 94.4 L781.7 92.8 L788.3 91.2 L795.0 89.6 L801.6 87.9 L808.2 86.1 L814.8 84.4 L821.4 82.5 L827.9 80.7 L834.5 78.7 L841.0 76.8 L847.6 74.8 L854.1 72.7 L860.6 70.6 L867.1 68.5 L873.5 66.3 L880.0 64.1 L886.4 61.8 L892.9 59.5 L899.3 57.2 L905.7 54.8 L912.1 52.3 L918.4 49.9 L924.8 47.3 L931.1 44.8 L937.4 42.2 L943.7 39.5 L950.0 36.8 L956.3 34.1 L962.5 31.3 L968.7 28.5 L974.9 25.7 L981.1 22.8 L987.3 19.8"/>
</g>
<g fill="none" stroke="#b4b4b4" stroke-width="0.7" stroke-linejoin="round">
<g clip-path="url(#ex)">
<path d="M900.2 365.5 L902.3 365.1 L904.2 364.2 L906.0 363.1 L907.9 362.1 L909.9 361.6 L911.3 360.1 L913.1 358.9 L914.2 357.1 L915.8 355.8 L917.5 354.9 L919.3 354.3 L920.7 352.9 L922.1 351.6 L924.0 351.1 L925.6 350.0 L926.4 348.2 L928.3 347.1 L929.5 345.6 L930.5 343.9 L931.8 342.4 L932.5 340.0 L934.2 338.3 L935.7 336.5 L936.7 334.4 L937.7 332.3"/>
<path d="M909.9 361.6 L910.3 363.6 L909.5 365.6 L909.6 367.5 L910.1 369.3 L911.4 370.9 L912.9 372.4 L914.2 374.0 L915.6 375.6 L917.6 375.8 L919.2 376.7 L920.3 378.5 L922.1 379.0 L923.6 380.0"/>
<path d="M429.8 471.6 L431.7 472.4 L433.7 472.6 L435.7 471.7 L437.7 471.9 L439.5 473.1 L441.5 473.1 L443.5 473.3 L445.5 473.1 L447.3 473.5 L446.6 475.2 L445.9 476.9 L445.6 478.8 L444.6 480.4 L443.9 482.1 L442.8 483.7 L441.8 485.3 L441.1 486.9 L440.6 488.8 L439.7 490.5 L438.9 492.2 L438.1 494.0 L437.2 495.7 L435.7 497.0 L435.5 499.0 L435.1 500.9 L434.1 502.7 L434.1 504.8 L433.8 506.8 L435.9 507.4 L438.0 508.1 L439.7 509.4 L442.0 510.4 L442.6 512.2 L443.0 514.2 L444.3 515.6 L445.8 516.9 L446.0 519.0 L447.2 520.1 L445.6 521.1 L443.9 521.9 L442.4 523.0 L440.8 524.0 L439.4 525.4 L437.2 525.9 L436.2 527.5 L436.1 529.7 L434.5 530.9 L433.5 532.6 L432.8 534.4 L431.8 536.0 L431.1 538.0 L430.0 539.8 L429.8 541.9"/>
<path d="M379.1 543.8 L381.1 543.9 L383.0 544.7 L385.0 544.8 L386.8 545.5 L388.7 545.9 L390.7 546.3 L392.4 547.2 L393.5 549.0 L395.5 549.4 L397.1 550.4 L398.7 552.2 L400.6 551.2 L402.6 551.2 L404.5 550.4 L406.5 550.2 L408.5 549.3 L410.3 550.4 L412.2 551.2 L414.2 551.4 L416.1 552.2 L418.1 552.7 L420.2 552.5 L422.2 553.8 L423.3 552.1 L424.2 550.3 L425.1 548.6 L427.1 547.6 L427.9 545.8"/>
<path d="M155.9 579.1 L157.4 577.8 L158.9 576.7 L160.7 576.0 L162.2 574.8 L163.7 573.7 L165.5 573.1 L167.5 572.6 L169.1 571.5 L170.7 570.5 L172.0 569.0 L173.8 568.3 L175.4 567.3"/>
<path d="M259.4 612.3 L261.3 613.1 L263.2 613.9 L265.1 614.6 L267.0 615.4 L269.1 615.8 L271.0 616.7 L273.1 616.0 L275.0 616.8 L276.9 617.7 L278.9 617.6 L280.8 618.3 L282.8 617.6 L284.8 618.1 L286.7 617.8 L288.7 618.2 L290.6 618.1"/>
<path d="M282.8 704.5 L284.4 703.4 L285.7 702.0 L286.7 700.3 L287.8 698.8 L288.9 697.2 L290.6 696.4 L292.5 695.8 L294.5 695.9 L296.4 695.1 L298.5 695.3 L300.3 694.3 L302.2 694.7 L304.2 695.0 L306.2 695.0 L308.2 695.5 L310.1 696.0 L312.0 695.9 L314.1 695.5 L316.2 695.0 L317.9 693.6 L320.1 693.4 L321.9 692.5 L323.8 693.1 L325.8 692.9 L327.8 693.0 L329.6 694.3 L331.4 694.6 L333.6 695.2 L335.8 695.8 L337.7 696.9 L339.5 698.2"/>
<path d="M342.0 608.4 L342.1 606.4 L342.2 604.4 L343.1 602.5 L342.8 600.5 L343.6 598.6 L343.8 596.5 L344.7 594.9 L346.3 593.9 L347.0 592.2 L348.6 591.1 L349.7 589.3 L351.7 589.1 L353.7 589.3 L355.7 589.6 L357.5 588.6 L359.2 588.6 L360.8 587.3 L362.3 586.0 L363.1 584.2 L364.1 582.5 L365.7 581.5 L367.0 579.1 L369.4 578.5 L371.2 577.5 L373.1 576.9 L375.1 576.5 L377.1 576.3 L378.9 576.4 L380.8 577.0 L381.9 578.6 L383.3 579.9 L385.0 580.9 L386.0 582.6 L387.7 583.8 L388.9 585.4 L389.9 587.0 L390.8 589.0 L392.8 589.0 L394.7 589.2 L396.6 589.9 L398.6 590.1 L400.6 590.2 L402.2 591.0 L403.6 592.9 L405.4 594.5 L406.3 596.6 L405.4 598.5 L404.1 600.7 L405.6 602.6 L407.3 604.3 L407.9 606.1 L407.8 608.6 L406.5 610.3 L405.2 612.1 L404.8 613.9 L406.1 615.4 L408.0 616.1 L409.1 617.9 L410.5 619.2 L412.3 620.2 L414.2 620.7 L416.2 620.3 L418.1 620.9 L420.0 621.0 L422.0 621.2 L424.0 621.8 L425.8 622.9 L427.7 623.8 L429.8 624.0 L431.9 622.7 L434.1 620.7 L435.2 622.6 L436.8 624.0 L438.1 625.6 L439.8 626.8 L441.9 627.9 L442.1 629.8 L442.0 631.8 L443.1 633.7 L442.9 635.7 L443.6 637.6 L443.9 639.3 L445.1 640.8 L445.6 642.9 L447.4 644.0 L448.5 645.7 L449.5 647.4 L449.3 649.4 L450.7 651.2 L450.6 653.3 L450.9 655.3 L451.0 657.6 L452.7 658.8 L454.3 660.1 L456.4 660.9 L457.9 662.3 L459.6 663.6 L461.0 665.1 L462.4 666.3 L463.9 667.3 L465.3 668.5 L466.6 669.6 L468.0 670.8 L469.3 672.0 L470.7 673.2 L472.1 674.3 L473.5 675.4 L474.9 676.6 L476.4 677.8 L477.7 679.2 L478.8 680.8 L480.5 681.8 L482.1 682.8 L483.5 684.2 L484.9 685.4 L486.8 686.1 L487.8 688.2 L489.5 689.4 L491.1 690.8 L492.7 692.0 L494.7 692.9 L496.3 694.2 L498.4 694.8 L500.1 696.4 L502.4 696.8 L504.5 697.8 L505.8 699.5 L507.3 701.1 L508.6 702.8 L509.9 704.5"/>
<path d="M612.3 608.4 L614.1 609.1 L615.2 610.8 L617.4 610.9 L618.6 612.5 L620.6 612.8 L622.3 614.1 L622.4 616.4 L624.3 617.9 L624.8 620.1 L625.9 622.0 L627.8 621.3 L629.8 620.7 L631.7 619.7 L633.9 619.8 L635.6 618.3 L637.6 617.8 L639.4 616.6 L641.8 616.0 L643.1 617.6 L644.2 619.4 L646.1 620.4 L647.6 621.6 L649.5 622.5 L651.1 624.1 L653.5 623.9 L655.2 625.3 L657.3 625.8 L659.1 627.0 L661.2 627.7 L662.9 629.0 L665.0 629.8 L666.9 631.0 L668.7 632.2 L670.8 632.9 L672.8 633.8"/>
<path d="M594.7 637.7 L594.2 639.7 L593.8 641.6 L593.6 643.7 L592.4 645.2 L591.6 647.2 L589.8 647.9 L588.0 648.8 L587.2 650.7 L585.3 651.5 L583.8 652.7 L582.8 654.4 L581.1 655.1 L581.8 657.3 L583.0 659.0 L584.9 659.7 L587.0 659.4 L588.9 659.8 L590.9 660.0 L592.7 660.8 L594.7 661.2 L596.7 660.9 L598.6 660.8 L600.5 660.5 L602.5 660.4 L604.4 660.0 L606.4 659.9 L608.4 659.7 L610.3 659.6 L612.2 659.3 L614.1 658.6 L616.1 658.4 L618.1 658.0 L620.0 657.7 L622.1 657.9 L624.2 656.9 L625.7 658.6 L627.7 659.6 L630.1 659.6 L631.9 661.2 L629.9 662.1 L628.2 663.6 L626.0 664.1 L624.0 665.0"/>
<path d="M555.6 670.9 L555.1 672.8 L554.9 674.8 L554.4 676.7 L554.4 678.7 L553.4 680.8 L554.7 682.8 L556.1 684.6 L557.7 686.1 L559.5 687.2 L561.5 687.6 L563.6 688.1 L565.1 690.2 L567.0 691.5 L569.8 692.3 L568.9 694.3 L569.2 696.4 L569.4 698.4 L569.6 700.4 L569.1 702.5 L569.3 704.5"/>
<path d="M622.0 668.9 L624.0 669.3 L625.9 669.9 L627.8 670.9 L629.9 670.8 L631.8 671.3 L633.7 671.9 L635.8 671.9 L637.7 672.8 L639.6 673.3 L641.5 673.8 L643.6 673.3 L645.5 673.9 L647.5 674.0 L649.5 675.2 L651.4 674.7 L653.2 673.6 L655.3 674.4 L657.3 674.0 L659.2 673.3 L661.1 672.9 L663.0 671.9 L664.9 671.3 L667.0 671.4 L668.8 670.3 L670.8 670.0 L672.7 669.6 L674.6 668.8 L676.7 668.9 L678.6 668.1 L680.8 667.7 L682.6 666.6 L684.6 665.9 L686.5 665.0 L687.6 663.1 L688.4 661.1 L689.2 659.0 L690.9 657.6 L692.0 656.0 L693.0 654.3 L694.1 652.7 L694.9 650.8 L696.0 649.1 L697.7 647.9 L699.1 646.4 L701.3 645.8 L702.7 644.1 L704.6 643.2 L705.9 641.5 L707.9 641.1 L709.5 640.0 L710.6 638.1 L712.4 637.4 L714.4 637.1 L715.8 635.7 L717.8 636.0 L719.7 635.1 L721.6 634.4 L723.6 634.7"/>
<path d="M686.5 668.9 L687.2 670.8 L687.6 672.9 L688.3 674.8 L689.5 676.6 L690.3 678.5 L690.5 680.5 L691.8 682.0 L692.4 683.9 L693.7 685.4 L694.9 686.9 L696.2 688.5 L698.1 689.0 L700.2 688.8 L702.1 689.5 L704.1 689.6 L705.7 690.7 L707.8 691.5 L708.7 693.6 L710.8 694.4 L711.7 696.3 L712.9 697.8 L713.6 699.5 L713.9 701.4 L715.5 702.6 L715.8 704.5"/>
<path d="M808.4 579.1 L807.1 580.8 L805.3 581.8 L803.8 583.3 L802.2 584.6 L801.2 586.4 L799.6 587.5 L798.1 588.8 L796.5 589.9 L794.6 590.6 L793.3 592.1 L791.4 592.7 L790.0 594.0 L788.3 594.9 L786.6 595.7 L784.6 596.4 L783.6 598.1 L783.0 600.1 L781.6 601.5 L780.6 603.2 L778.7 604.2 L777.6 605.8 L776.4 607.4 L775.2 608.9 L774.1 610.6 L773.0 611.8 L771.1 612.6 L769.4 613.9 L767.2 613.9 L765.4 614.9 L763.4 615.3 L761.5 616.1 L759.6 616.9 L757.7 617.7 L755.7 618.2 L753.8 619.0 L751.9 619.9 L749.5 619.8 L748.1 621.3 L746.4 622.6 L745.2 624.3 L743.8 625.9 L743.2 627.8 L743.6 629.9 L742.6 631.7 L742.4 633.8 L742.0 635.7"/>
</g>
<g clip-path="url(#pc0)">
<path d="M811.2 578.4 L810.3 580.2 L808.8 581.6 L807.2 582.9 L806.0 584.5 L804.8 586.0 L803.5 587.8 L801.6 589.1 L800.3 590.9 L799.2 592.8 L797.6 594.0 L796.7 595.8 L794.6 596.7 L793.3 598.2 L792.5 600.0"/>
</g>
</g>
<g fill="none" stroke="#2a2a2a" stroke-width="1.4" stroke-linejoin="round">
<g clip-path="url(#ex)">
<path d="M184.2 380.0 L186.0 378.9 L187.0 377.2 L187.4 375.1 L188.3 373.3 L189.9 372.0 L190.9 370.2 L193.3 370.0 L194.7 368.0 L196.8 367.5 L196.1 365.4 L195.8 363.1 L193.9 361.6 L194.0 359.7 L195.7 358.4 L196.0 356.6 L195.8 354.6 L197.9 353.4 L198.7 351.8 L198.9 350.0 L199.3 348.8 L200.2 346.6 L202.4 346.5 L204.2 345.9 L205.6 344.4 L206.9 343.0 L207.9 341.5 L209.7 340.6 L211.2 339.6 L212.9 338.7 L214.2 337.4 L214.5 335.3 L215.0 337.5 L217.4 338.4 L217.5 340.8 L219.2 342.1 L221.1 343.5 L220.2 345.9 L221.6 347.5 L221.4 349.6 L222.4 351.3 L224.6 352.6 L224.2 354.8 L226.4 355.2 L228.0 353.3 L230.0 353.0 L232.9 353.0 L231.5 351.0 L232.6 349.2 L232.0 347.3 L234.0 345.6 L233.8 343.7 L233.2 341.8 L232.6 339.8 L233.3 338.0 L234.0 336.2 L236.2 336.7 L237.7 334.3 L239.9 334.9 L242.2 334.7 L243.4 332.9 L245.3 331.9 L246.3 329.9 L248.4 329.3 L249.8 327.1 L251.6 325.7 L253.5 325.1 L255.5 325.2 L257.4 324.5 L259.5 324.7 L261.2 323.3 L263.0 322.4 L265.0 321.6 L267.4 321.8 L269.0 320.5 L270.3 318.8 L271.2 316.8 L273.8 316.6 L274.6 315.6 L276.5 316.7 L278.4 317.4 L280.3 318.8 L282.3 320.1 L284.7 320.7 L286.6 322.4 L288.8 322.3 L290.4 320.6 L292.8 321.0 L294.6 320.4 L296.9 320.2 L299.1 319.2 L300.4 319.1 L301.9 320.7 L303.0 322.6 L303.2 324.7 L304.0 327.7 L306.0 327.9 L308.0 328.1 L310.4 327.0 L312.0 328.7 L314.1 328.9 L315.9 329.7 L317.7 330.7 L320.5 330.2 L320.0 332.5 L322.1 334.0 L322.4 335.7 L322.8 338.2 L325.1 338.9 L325.7 341.2 L328.6 341.7 L329.4 343.7 L329.2 346.2 L331.6 347.5 L331.7 350.0 L334.4 349.0 L336.5 348.4 L338.4 349.0 L341.2 348.1 L341.8 350.8 L343.5 352.3 L345.2 353.9 L347.0 354.9 L348.6 356.2 L350.4 358.8 L351.5 355.9 L353.5 355.1 L356.3 356.4 L357.6 353.9 L359.2 353.2 L360.6 352.0 L362.9 351.7 L364.0 350.9 L365.3 348.3 L367.5 348.7 L369.7 347.5 L371.6 348.3 L373.6 348.8 L375.3 350.2 L377.5 350.2 L379.5 350.5 L381.2 351.9 L383.8 352.5 L384.5 354.2 L387.4 353.9 L387.2 351.1 L389.1 349.6 L391.0 350.7 L392.9 351.2 L394.8 351.6 L397.3 350.2 L398.6 352.2 L400.3 353.8 L403.7 353.6 L402.6 356.2 L402.5 358.5 L403.8 360.3 L406.4 361.1 L408.5 362.8 L410.6 363.2 L412.8 363.3 L414.5 364.7 L416.5 365.3 L418.2 367.1 L420.3 368.5 L422.0 367.1 L423.9 366.3 L426.2 365.0 L426.3 362.3 L428.0 360.8 L430.3 361.6 L430.3 364.3 L432.1 365.1 L434.2 364.8 L436.0 365.8 L438.0 366.1 L440.0 368.2 L441.7 366.4 L443.6 365.8 L445.7 365.6 L448.5 366.3 L449.2 364.4 L450.5 363.1 L452.1 361.7 L451.7 359.6 L452.2 357.7 L453.1 355.8 L451.9 353.6 L453.2 351.2 L455.5 350.9"/>
<path d="M455.5 350.9 L453.4 350.7 L452.6 348.2 L450.8 347.4 L448.5 347.5 L447.1 346.1 L445.4 345.2 L444.0 343.8 L442.6 342.4 L440.1 342.5 L438.4 341.5 L438.0 338.7 L435.8 338.3 L434.9 336.1 L432.1 335.6 L431.5 333.2 L430.4 331.8 L431.1 329.7 L433.7 329.8 L435.1 328.5 L435.6 325.4 L437.5 324.8 L439.8 325.4 L442.1 325.8 L443.7 323.9 L445.0 323.5 L445.8 321.3 L445.2 318.8 L446.2 317.2 L445.3 315.5 L444.1 314.1 L442.2 312.5 L443.2 310.6 L444.1 308.6 L445.7 306.9 L447.4 305.6 L449.1 304.0 L451.7 304.8 L453.6 303.9 L455.5 303.8 L457.4 302.5 L459.1 304.1 L461.4 304.5 L464.2 303.5 L465.9 305.3 L465.1 303.2 L463.4 301.6 L461.2 300.7 L458.7 301.6 L456.9 300.5 L455.1 299.5 L452.9 298.9 L451.8 297.3 L453.1 295.5 L453.7 293.5 L453.5 291.3 L456.5 290.2 L454.2 290.3 L452.9 288.9 L451.8 286.7 L449.6 287.1 L447.0 286.1 L448.8 284.0 L449.9 282.0 L451.3 280.7 L452.4 278.9 L453.9 277.8 L455.5 276.7 L457.4 277.6 L459.4 277.2 L461.4 277.2 L463.3 277.7 L465.4 276.8 L467.3 277.1 L469.1 278.9 L470.6 279.6 L472.9 279.8 L474.8 280.4 L475.7 278.7 L477.6 278.0 L479.2 277.8 L481.0 276.8 L482.8 275.8 L485.0 276.0 L486.5 274.1 L488.7 274.2 L490.9 274.8 L492.6 273.4 L494.5 272.7 L496.3 271.7 L498.4 271.9 L500.5 272.5 L502.1 270.0 L504.4 271.5 L506.4 271.2 L508.4 271.0 L510.4 270.3 L512.4 269.8 L514.1 268.4 L516.1 267.8 L517.9 266.7 L519.6 265.2 L522.2 266.3 L523.9 264.9 L525.7 263.3 L527.7 263.7 L529.7 263.3 L531.6 262.9 L533.4 262.4 L535.3 262.0 L537.1 261.6 L539.0 261.1 L540.8 260.5 L542.6 259.8 L544.4 259.4 L546.3 258.9 L548.2 258.6 L550.0 258.1"/>
<path d="M550.0 258.1 L552.4 258.1 L554.4 257.1 L555.4 254.2 L557.5 253.3 L560.0 254.3 L561.9 253.5 L564.1 252.4 L564.4 248.9 L566.4 248.8 L568.1 248.1 L569.9 247.3 L570.9 245.8 L572.7 245.0 L573.9 243.6 L575.3 243.0 L577.1 244.0 L579.1 244.2 L581.2 243.6 L583.2 243.6 L585.2 243.4 L587.3 243.1 L589.7 243.6 L591.1 245.7 L593.2 246.7 L594.8 248.1 L597.3 248.2 L598.9 246.5 L600.8 245.5 L602.8 245.1 L604.9 244.9 L607.0 246.3 L607.9 248.1 L607.6 250.3 L606.9 252.5 L608.2 254.3 L609.8 256.0 L608.6 258.3 L609.3 260.2 L609.9 261.9 L609.2 263.8 L609.1 265.8 L608.7 267.7 L609.3 269.9 L607.8 272.6 L609.1 273.9 L611.8 273.8 L612.6 276.3 L614.5 276.0 L616.4 275.1 L618.4 275.0 L620.3 274.7 L622.4 274.3 L623.3 272.3 L625.2 271.6 L626.4 269.5 L627.7 271.6 L629.2 272.0 L630.7 273.7 L630.9 275.7 L630.5 277.9 L632.2 280.1 L633.9 278.6 L635.7 277.1 L637.7 276.6 L640.0 276.8 L642.1 274.9 L643.5 277.3 L645.9 276.5 L648.2 278.6 L649.4 276.3 L650.5 275.4 L650.6 277.5 L650.6 279.6 L650.1 281.5 L649.3 283.3 L648.1 285.4 L647.4 287.7 L646.0 288.8 L647.6 290.4 L650.3 292.1 L651.3 290.3 L651.9 288.1 L654.5 288.2 L655.5 286.9 L657.5 287.4 L659.4 285.7 L661.3 287.0 L662.6 285.7 L664.9 285.4 L665.5 283.4 L666.9 281.9 L669.6 282.3 L670.7 279.7 L673.1 279.6 L675.7 279.0 L675.4 276.6 L676.3 274.9 L678.7 274.0 L678.8 271.6 L681.1 271.3 L682.3 268.8 L684.6 268.6 L686.3 267.2 L688.9 266.9 L690.1 264.5 L692.9 265.1 L694.3 262.4 L696.6 263.5 L698.2 261.4 L699.8 261.8 L700.7 258.9 L701.7 261.7 L700.9 264.5 L698.4 265.3 L697.3 267.5 L696.3 268.1 L696.1 271.2 L698.9 271.1 L700.6 272.1 L701.7 273.9 L702.9 275.6 L704.3 277.0 L706.7 277.0 L708.0 278.5 L710.0 279.1 L711.0 281.1 L712.1 282.9 L713.7 283.9 L714.7 285.5 L716.3 286.5 L717.4 288.0 L719.0 289.0 L720.6 290.0 L722.4 290.9 L722.9 293.2 L724.8 294.3 L726.5 295.6 L727.2 297.8 L727.7 300.0 L730.3 300.5 L730.9 302.5 L732.5 303.5 L733.6 305.0 L735.5 305.7 L735.4 308.4 L738.0 308.5 L738.6 310.7 L740.3 312.0 L742.3 313.1 L742.6 315.5 L744.7 316.5 L746.1 318.0 L747.3 319.4 L748.3 321.1 L749.6 322.4 L750.0 324.5"/>
<path d="M750.0 324.5 L751.2 326.0 L752.1 327.6 L753.3 329.0 L754.3 330.6 L755.4 332.2 L756.7 333.5 L757.8 335.0 L758.5 336.8 L759.8 338.2 L760.9 339.7 L761.7 341.4 L763.0 342.8 L763.9 344.4 L765.1 345.8 L766.2 347.4 L767.1 348.1 L769.3 348.8 L772.1 348.2 L771.8 346.0 L772.8 344.2 L773.1 342.2 L772.2 339.9 L774.3 338.3 L774.3 336.4 L776.3 335.1 L778.4 333.8 L780.3 334.8 L782.2 335.8 L782.9 337.7 L783.8 339.5 L785.3 340.9 L786.5 343.0 L788.7 342.6 L790.0 344.2 L792.1 344.2 L794.2 345.9 L795.8 344.8 L796.5 342.2 L798.6 341.2 L800.5 341.4 L802.5 343.2 L804.5 341.9 L806.7 342.3 L807.3 339.9 L809.0 338.2 L810.2 335.9 L812.2 335.4 L814.2 335.4 L816.2 335.0 L818.1 335.3 L820.0 334.7 L822.0 335.3 L824.0 335.2 L825.4 335.4 L827.7 335.6 L830.2 335.5 L831.4 338.0 L832.9 338.9 L834.2 340.3 L836.0 341.4 L836.9 343.2 L839.0 344.0 L839.3 346.7 L841.5 346.9 L843.7 347.1 L845.9 347.4 L847.1 349.9 L848.9 351.0 L851.8 350.0 L853.0 352.5 L855.3 352.6 L857.8 353.2 L858.9 354.9 L859.3 357.2 L860.4 358.8 L863.2 358.9 L863.5 361.3 L865.0 361.5 L867.0 363.1 L868.9 362.2 L870.9 363.5 L872.8 363.8 L874.8 362.6 L877.5 363.5 L877.9 360.8 L878.9 359.0 L881.3 358.4 L881.6 356.2 L882.9 354.8 L884.3 353.4 L885.3 352.1 L887.5 352.8 L889.3 354.2 L888.8 357.1 L891.1 358.1 L891.0 360.7 L892.3 362.4 L894.4 363.3 L896.3 364.1 L898.2 364.9 L900.0 365.2 L898.1 366.6 L896.2 368.0 L894.0 369.4 L892.6 371.1 L893.0 373.4 L892.5 375.3 L892.3 377.8 L893.3 380.0"/>
<path d="M350.0 506.7 L348.3 507.6 L346.6 508.2 L344.7 507.8 L343.0 508.7 L341.2 509.2 L339.3 508.6 L336.5 508.6 L336.5 510.5 L336.3 512.5 L337.3 514.6 L336.3 516.5 L336.6 518.5 L336.6 520.5 L335.7 522.3 L335.4 524.1 L334.8 525.8 L334.6 527.6 L334.3 529.4 L334.0 531.2 L334.1 533.0 L333.7 534.8 L333.3 536.5 L333.0 538.3 L332.7 540.1 L331.7 541.7 L333.2 544.0 L331.6 545.8 L331.1 547.7 L331.1 549.7 L331.5 551.8 L330.5 553.6 L331.0 555.7 L328.7 557.3 L328.5 559.1 L329.0 561.1 L329.3 562.9 L327.6 564.5 L328.1 566.4 L327.1 568.1 L327.7 570.0"/>
<path d="M839.6 432.5 L841.5 433.2 L843.4 433.9 L845.3 434.4 L847.2 435.1 L849.3 435.1 L851.1 436.0 L853.6 434.4 L855.3 435.8 L857.5 437.4 L859.2 436.3 L861.3 436.4 L862.8 434.1 L865.0 434.4 L867.3 433.4 L869.8 433.5 L870.2 435.5 L870.0 436.6 L871.5 435.6 L872.8 434.3 L875.1 433.9 L876.0 432.3 L876.4 429.7 L878.9 430.4 L880.3 428.2 L882.6 428.6 L883.6 427.4 L883.8 424.9 L886.2 422.1 L883.7 421.7 L882.5 420.2 L882.7 417.6 L881.5 416.7 L879.6 415.1 L880.7 412.7 L879.3 411.0 L879.1 409.0 L877.5 407.3 L878.7 404.9 L877.6 403.1 L877.8 401.4 L878.0 399.5 L877.0 397.2 L877.6 395.3 L877.5 393.3 L878.4 390.7 L880.3 389.8 L882.4 389.6 L884.6 389.6 L885.7 387.7 L888.2 387.7 L889.1 385.9 L890.6 384.6 L893.0 383.9 L892.9 381.7 L893.2 379.6 L894.3 377.8 L894.3 375.7 L892.3 374.2 L893.9 371.7 L892.3 370.0"/>
<path d="M831.8 482.3 L833.5 483.7 L835.4 484.5 L837.7 484.4 L840.2 485.2 L840.8 487.6 L839.5 489.7 L837.7 490.7 L835.9 490.5 L833.6 490.7 L832.0 489.2 L829.7 489.6 L828.0 488.1 L826.0 488.0 L824.1 488.4 L822.0 489.1 L819.9 489.7 L818.4 491.8 L816.1 492.0 L813.9 492.4 L812.5 494.5 L810.0 494.3 L808.2 495.6 L806.0 496.2 L804.6 498.3 L802.8 499.8 L800.3 498.9 L798.3 499.5 L796.7 501.0 L796.0 502.9 L794.5 504.0 L792.6 505.1 L794.9 505.3 L796.1 507.7 L798.5 507.9 L801.2 508.5 L800.8 510.8 L802.2 512.5 L801.5 514.7 L801.9 516.7 L803.3 518.4 L803.4 520.4 L803.6 522.4 L803.8 524.6 L804.2 526.6 L807.0 527.8 L807.0 530.0 L807.2 532.2 L808.8 533.4 L809.2 535.3 L811.2 536.3 L810.5 538.8 L812.2 539.9 L814.1 541.5 L813.9 544.0 L815.6 545.9 L815.2 548.0 L813.9 549.7 L813.9 552.1 L812.3 554.0 L809.7 556.1 L811.9 557.2 L812.0 560.1 L809.1 561.1 L809.5 563.6 L808.5 565.7 L806.8 567.7 L807.4 570.0"/>
<path d="M331.6 540.0 L331.4 541.8 L331.3 543.6 L330.8 545.4 L330.8 547.2 L330.3 549.0 L330.1 550.8 L330.0 552.6 L329.6 554.4 L329.5 556.2 L329.1 558.0 L329.0 559.8 L328.7 561.6 L328.3 563.4 L327.9 565.2 L327.9 567.0 L327.6 568.8 L327.2 570.6 L326.8 572.4 L326.7 574.2 L326.5 576.0 L326.0 577.8 L326.2 579.6 L325.6 581.4 L325.6 583.2 L325.4 585.0 L325.1 586.8 L324.8 588.6 L324.3 590.4 L324.3 592.2 L323.9 594.0 L323.6 595.8 L323.5 597.6 L323.2 599.4 L323.1 601.2 L322.9 603.0 L322.6 604.8 L322.1 606.6 L321.9 608.6 L319.9 608.8 L318.0 608.2 L316.0 608.5 L314.1 608.9 L312.7 608.0 L311.3 606.5 L309.2 605.6 L308.7 603.6 L307.4 602.0 L307.1 600.2 L306.1 598.4 L304.4 596.8 L305.3 594.3 L302.7 593.0 L302.8 590.8 L302.8 588.4 L300.3 587.7 L299.7 585.6 L297.5 584.6 L297.4 582.1 L296.3 580.3 L294.6 578.9 L293.0 577.3 L290.4 577.5 L288.9 575.8 L286.7 575.0 L284.8 575.0 L282.8 575.3 L280.9 574.4 L278.9 574.1 L276.9 575.3 L274.9 574.8 L273.2 576.6 L271.0 575.4 L269.1 575.8 L267.0 575.3 L265.1 576.0 L263.6 577.5 L261.8 578.3 L259.8 578.7 L259.0 581.0 L256.8 581.1 L255.5 582.7 L253.5 583.0"/>
<path d="M624.0 596.6 L623.2 598.9 L620.5 599.9 L620.6 603.2 L617.9 603.4 L616.7 605.9 L614.4 607.0 L611.9 605.9 L610.6 608.4 L608.2 608.1 L606.5 609.5 L604.5 610.5 L602.5 611.3 L601.0 612.9 L598.5 612.9 L598.2 615.5 L596.6 616.4 L595.2 618.1 L593.0 618.6 L590.9 619.3 L588.1 619.4 L587.6 621.8 L586.6 623.7 L584.9 624.9 L582.0 625.2 L582.6 628.4 L580.2 629.7 L579.3 632.0 L577.4 632.5 L576.5 633.7 L576.0 635.8 L576.8 637.7 L576.8 639.8 L577.2 642.0 L579.1 643.3 L577.4 644.8 L574.7 645.4 L574.0 642.7 L571.9 642.9 L570.0 642.7 L569.1 640.3 L567.1 640.2 L565.9 639.3 L565.2 637.2 L562.9 635.5 L564.1 633.1 L565.6 629.9 L563.3 631.3 L561.6 629.4 L559.3 630.6 L557.6 628.8 L555.7 628.4 L553.9 627.5 L551.9 627.3 L549.8 627.8 L547.7 628.1 L545.7 627.8 L543.9 626.6 L542.0 626.3 L540.0 625.9"/>
<path d="M624.0 596.6 L624.4 594.6 L624.7 592.6 L624.6 590.5 L626.7 589.1 L625.4 586.5 L627.2 584.9 L628.3 583.9 L629.4 581.1 L631.8 581.1 L633.7 581.5 L635.8 580.3 L637.7 581.3 L639.6 582.3 L641.6 581.9 L643.5 582.8 L645.6 581.7 L647.5 582.1 L649.6 582.1 L651.3 583.5 L653.1 584.9 L655.2 584.6 L657.0 585.5 L659.2 585.1 L661.0 586.5 L663.3 585.5 L665.1 586.4 L666.9 587.6 L668.8 587.9 L670.9 587.5 L671.8 587.7 L672.7 586.0 L672.9 584.2 L673.5 582.5 L675.1 581.0 L674.1 578.9 L676.2 577.3 L676.6 575.4 L675.2 572.9 L676.6 570.9 L678.6 570.2 L680.1 568.2 L682.5 568.1 L684.8 568.2 L686.2 565.8 L688.5 566.3 L690.8 564.6 L692.2 566.5 L693.8 568.2 L696.4 567.6 L698.6 567.9 L700.5 568.8 L702.1 570.6 L704.5 570.1 L706.4 570.9 L708.0 572.5 L709.8 574.2 L711.9 573.3 L713.8 573.5 L715.7 574.3 L716.9 573.7 L718.9 572.8 L719.5 570.4 L721.7 571.0 L723.9 571.3 L725.3 568.7 L727.5 569.4 L729.5 569.0 L731.2 567.5 L733.2 567.3 L735.7 568.4 L738.1 567.5 L740.0 565.4"/>
<path d="M809.3 576.1 L807.7 575.2 L805.8 574.8 L804.3 573.8 L802.4 573.9 L800.7 572.1 L798.7 571.8 L796.8 571.9 L794.3 572.0 L792.7 570.2 L790.6 569.6 L788.4 568.8 L787.5 566.0 L784.8 564.2 L783.0 566.6 L780.9 564.8 L779.0 565.5 L777.1 566.2 L775.2 566.5 L773.2 565.7 L771.3 566.4 L769.3 566.0 L767.3 566.0 L765.4 567.3 L763.4 565.8 L761.5 565.2 L759.6 565.3 L757.6 565.9 L755.5 567.0 L753.5 566.8 L751.8 566.3 L749.7 564.5 L747.8 566.2 L745.9 566.2 L743.8 565.1 L742.0 566.7 L740.0 566.4"/>
</g>
<g clip-path="url(#pc0)">
<path d="M723.8 569.8 L725.6 568.7 L727.7 569.1 L729.7 569.6 L731.7 569.1 L733.6 568.9 L735.5 567.9 L737.6 568.5 L739.4 567.6 L741.1 566.3 L743.0 566.9 L744.6 565.7 L746.7 567.6 L748.5 567.4 L750.1 565.7 L751.9 565.4 L753.9 566.5 L755.8 565.2 L757.8 565.1 L759.7 565.2 L761.6 565.5 L763.6 566.2 L765.5 567.0 L767.5 565.2 L769.5 567.0 L771.5 566.0 L773.5 566.9 L775.6 566.7 L777.6 565.1 L779.6 566.3 L781.6 565.0 L783.9 564.7 L786.3 565.7 L787.4 567.6 L789.3 568.4 L791.4 568.8 L792.2 571.4 L794.1 572.2 L796.5 571.3 L798.2 572.4 L799.9 573.5 L801.5 574.7 L804.2 573.7 L805.8 575.5 L807.3 577.2 L809.7 576.9"/>
<path d="M794.1 501.9 L795.5 503.6 L797.7 504.5 L798.0 507.3 L799.3 508.4 L801.0 510.0 L801.2 512.0 L802.8 513.5 L803.4 515.4 L803.9 517.3 L803.8 519.6 L805.6 521.1 L804.8 523.8 L807.6 524.9 L808.1 527.0 L809.1 528.8 L808.3 531.4 L810.0 533.0 L810.4 535.0 L811.3 536.7 L811.2 538.8 L812.4 540.5 L813.4 542.2 L814.0 544.5 L815.3 546.5 L816.6 549.5 L813.8 549.8 L812.5 551.6 L810.8 553.5 L811.1 556.0 L813.0 558.3 L811.5 559.9 L809.9 561.2 L809.4 563.4 L808.2 565.3 L809.2 567.2 L808.7 569.6 L809.1 571.7 L810.1 573.7 L811.5 575.7 L811.2 578.4"/>
<path d="M794.1 501.9 L795.2 500.2 L797.4 500.3 L798.4 498.4 L800.6 498.6 L802.0 497.4 L803.6 496.2 L805.6 495.9 L807.4 495.0 L808.7 493.1 L811.0 493.3 L812.9 492.8 L814.7 491.6 L817.0 491.4 L818.7 490.2 L820.2 488.5 L822.4 487.2 L824.5 487.5 L826.1 489.6 L828.7 489.8 L830.1 488.6 L831.5 487.2 L833.1 486.2 L834.2 484.2 L836.2 483.2 L837.8 481.6 L840.0 481.6"/>
<path d="M680.0 569.8 L682.4 569.9 L683.7 567.9 L685.9 567.5 L687.8 566.6 L689.7 564.6 L691.7 565.0 L693.1 567.0 L695.4 566.7 L697.0 568.1 L698.4 569.9 L700.3 570.8 L702.9 570.2 L704.8 571.0 L706.5 572.3 L708.1 574.6 L710.0 572.7 L711.9 573.1 L713.7 572.9 L715.6 572.9 L717.6 573.8 L719.1 570.6"/>
</g>
</g>
<g fill="none" stroke="#0a2a4a" stroke-width="1.6" stroke-linejoin="round">
<g clip-path="url(#ex)">
<path d="M216.4 448.1 L217.9 450.0 L220.0 451.2 L222.3 451.8 L224.3 451.8 L226.2 452.7 L227.9 452.9 L229.7 450.8 L229.9 447.7 L232.0 446.8 L234.1 445.7 L236.1 445.1 L237.9 443.7 L239.7 442.8 L242.0 443.3 L243.9 442.6 L245.6 441.3 L247.9 442.2 L249.9 441.8 L251.6 441.0 L253.5 441.2 L255.5 439.9 L257.4 440.8 L259.0 441.1 L261.2 441.7 L263.3 442.3 L265.2 443.0 L266.0 444.8 L267.1 446.4 L268.9 447.6 L270.9 448.1 L273.1 447.6 L274.6 448.8 L277.2 448.6 L278.6 450.7 L280.8 451.1 L283.6 451.2 L283.8 453.6 L285.6 454.4 L286.0 455.9 L286.3 457.9 L287.8 459.8 L286.7 461.8 L284.7 463.3 L284.6 466.0 L283.2 467.8 L281.5 469.5 L282.5 471.8 L281.2 473.5 L281.5 475.7 L279.2 477.5 L278.9 479.8 L279.0 482.4 L278.3 484.3 L276.6 485.2 L275.0 486.2 L273.1 485.2 L271.1 487.1 L269.1 486.1 L267.3 485.7 L265.3 485.8 L263.4 485.0 L261.4 485.4 L259.3 484.2 L257.4 485.2 L255.5 485.5 L253.6 486.1 L251.5 486.0 L249.8 487.9 L247.6 489.0 L246.5 490.7 L245.2 492.1 L243.7 493.3 L241.6 493.9 L240.5 496.3 L239.8 498.9 L241.8 499.6 L242.0 501.9 L243.2 503.4 L244.4 504.8 L245.9 505.9 L247.7 505.8 L245.7 505.8 L243.8 506.6 L241.7 506.9 L240.1 505.3 L237.7 505.2 L236.3 503.2 L234.1 502.0 L232.2 501.7 L230.1 502.1 L228.3 501.1 L226.1 501.7 L225.3 503.4 L224.0 505.1 L225.6 507.0 L227.6 508.2 L229.6 509.1 L232.2 510.1 L232.5 512.7 L234.0 514.5 L234.0 516.5 L233.9 518.5 L235.5 520.3 L234.8 522.4 L236.4 524.1 L236.5 526.1 L235.6 528.3 L236.9 530.1 L236.2 532.2 L238.1 533.9 L238.3 535.9 L237.5 538.2 L239.7 539.5 L239.7 542.0 L241.3 544.0 L243.7 544.6 L245.3 545.9 L247.4 547.4 L246.8 549.8 L247.6 551.8 L249.6 552.7 L251.7 553.3 L253.7 554.3 L254.9 556.4 L258.0 556.0 L260.0 557.3 L260.4 560.0 L262.9 561.1 L264.1 563.6 L263.2 565.8 L261.3 567.6 L261.3 570.0"/>
<path d="M237.9 540.0 L239.9 542.1 L241.6 544.0 L243.6 544.1 L246.2 543.8 L246.2 545.8 L246.8 547.8 L246.9 549.8 L247.4 552.3 L250.0 551.9 L252.1 552.7 L253.2 555.3 L255.5 555.5 L257.2 556.8 L259.7 555.9 L261.4 557.6 L261.3 559.7 L262.8 561.8 L260.5 563.0 L259.6 565.0 L260.3 567.9 L259.0 569.8 L256.7 571.2 L254.6 573.0 L255.4 575.2 L255.3 577.2 L254.5 579.1 L254.9 581.2 L253.5 583.0"/>
</g>
</g>
<g fill="none" stroke="#000" stroke-width="1.8" stroke-linejoin="round">
<g clip-path="url(#ex)">
<path d="M334.6 348.0 L333.2 349.4 L332.7 351.1 L332.7 353.1 L332.3 354.9 L331.1 356.3 L330.6 358.1 L329.6 359.7 L329.6 361.6 L329.3 363.4 L329.1 365.2 L328.8 367.1 L328.8 368.9 L328.7 370.8 L328.3 372.6 L328.2 374.5 L328.2 376.3 L327.7 378.1 L327.7 380.0"/>
<path d="M455.5 350.9 L459.0 351.4 L459.1 354.0 L460.5 355.5 L462.7 356.5 L463.6 358.4 L465.0 359.9 L465.9 361.6 L465.8 363.7 L467.6 365.4 L468.0 367.4 L466.5 369.6 L467.7 371.6 L467.4 373.8 L469.4 375.6 L468.8 377.9 L469.1 380.0"/>
<path d="M531.6 263.0 L530.9 265.3 L531.1 267.5 L533.3 269.5 L533.5 272.1 L531.3 273.5 L530.8 275.6 L530.4 278.0 L532.3 278.7 L533.1 280.5 L534.4 281.6 L534.0 283.5 L534.5 285.6 L533.5 287.5 L533.2 289.4 L532.1 291.4 L531.9 293.5 L532.4 295.4 L533.7 297.2 L534.3 299.1 L535.1 300.9 L536.5 302.6 L537.2 305.7 L535.3 306.4 L534.2 307.9 L532.9 308.9 L531.6 310.8 L532.3 312.8 L532.1 314.7 L532.7 316.7 L533.0 318.7 L532.2 320.6 L532.5 322.6 L531.6 324.5 L529.7 326.0 L529.3 328.3 L529.9 330.5 L527.9 332.1 L527.6 334.1 L527.2 336.1 L526.4 338.5 L526.7 340.5 L524.4 340.8 L522.2 342.1 L518.9 342.4 L519.4 344.3 L521.6 345.8 L520.9 348.1 L521.4 349.8 L521.7 351.9 L521.2 353.8 L520.9 355.8 L520.7 358.1 L522.3 359.7 L522.4 361.9 L524.0 363.3 L525.3 365.6 L527.2 366.9 L529.7 367.4 L531.6 368.9 L533.1 370.9 L535.4 371.9 L537.5 371.9 L539.6 371.8 L541.5 372.5 L543.2 373.8 L545.7 373.7 L546.8 376.0 L550.0 377.3"/>
<path d="M531.6 325.5 L533.6 325.2 L535.5 326.1 L537.6 326.0 L539.4 326.7 L541.2 327.2 L543.3 326.5 L545.0 326.9 L546.3 329.1 L548.4 328.4 L550.0 329.4"/>
<path d="M649.6 291.3 L650.8 293.1 L651.8 295.0 L651.8 297.1 L653.3 298.8 L654.4 300.7 L654.7 303.0 L654.7 305.4 L655.9 307.2 L656.9 309.2 L659.0 310.6 L659.3 312.8 L660.8 314.5 L662.0 316.6 L662.3 318.6 L662.3 320.5 L660.9 322.6 L661.2 324.6 L661.5 326.5 L661.6 328.5 L663.2 330.3 L663.2 332.2 L662.8 334.3 L663.0 335.8 L659.6 338.4 L660.0 340.3 L661.3 341.2 L663.3 342.3 L665.2 342.5 L667.2 342.1 L667.4 344.2 L666.3 346.0 L666.6 348.2 L664.3 350.2 L665.1 352.1 L666.4 353.9 L667.6 355.9 L665.9 357.6 L666.2 359.6 L665.2 361.5 L664.9 363.4 L665.2 365.5 L667.3 366.8 L669.1 368.7 L671.0 368.0 L672.9 367.1 L675.3 367.2 L676.5 369.5 L679.5 369.6 L681.0 370.9 L681.7 373.1 L683.6 373.7 L684.7 375.3 L685.8 377.6 L686.7 380.0"/>
<path d="M659.4 314.8 L657.5 314.0 L655.6 313.3 L653.7 312.7 L651.8 311.9 L649.8 311.8 L647.9 310.9 L645.5 312.4 L643.7 310.9 L643.7 308.5 L642.1 306.8 L640.5 304.2 L638.7 306.8 L635.9 307.1 L634.0 307.7 L632.0 307.2 L630.0 307.3 L628.2 308.7 L626.2 308.4 L623.7 308.0 L624.4 305.4 L623.5 303.2 L622.0 301.8 L620.6 299.5 L618.0 299.9 L616.6 297.9 L614.3 298.0 L612.3 297.8 L610.8 295.4 L608.4 296.3 L606.8 295.8 L604.3 294.9 L602.5 295.8 L600.5 297.6 L599.4 295.1 L596.9 294.5 L595.2 293.0 L593.1 292.5 L593.0 290.0 L590.9 289.0 L588.7 289.1 L586.9 289.8 L585.2 291.7 L583.2 291.6 L581.3 292.0 L579.6 292.0 L577.6 292.9 L575.5 293.0 L573.2 293.2 L573.8 295.6 L571.8 297.0 L571.8 298.9 L573.1 300.8 L573.5 303.4 L575.4 305.0 L575.3 307.1 L574.4 308.9 L573.5 310.7 L574.1 313.5 L571.4 313.4 L571.5 316.1 L569.1 316.3 L567.5 317.6 L567.4 320.4 L564.7 320.7 L564.0 322.7 L562.9 324.5 L563.4 326.8 L561.1 329.2 L559.4 327.7 L558.4 325.0 L556.1 325.1 L553.8 324.6 L551.7 324.9 L550.0 326.5"/>
<path d="M684.8 375.3 L686.8 375.7 L688.8 375.5 L690.6 374.5 L692.5 373.7 L694.4 372.9 L696.5 374.0 L698.4 373.3 L700.3 373.1 L701.6 371.5 L703.7 371.4 L704.9 369.6 L707.1 369.8 L708.7 368.8 L710.1 367.4 L711.7 366.1 L713.4 364.8 L714.1 362.6 L716.0 361.7 L717.8 362.9 L720.1 362.4 L721.4 364.1 L722.9 365.2 L724.0 366.7 L726.1 367.3 L727.8 369.0 L727.8 371.8 L729.9 374.0 L731.6 372.8 L733.4 371.5 L735.4 371.3 L737.6 371.7 L739.2 370.0 L741.8 370.3 L743.4 368.6 L744.7 367.3 L746.1 365.6 L746.0 363.5 L747.7 361.9 L748.1 359.3 L746.4 357.7 L745.6 355.7 L744.8 353.7 L743.7 351.3 L741.9 350.0 L739.0 350.9 L737.3 349.2 L735.7 347.8 L733.4 345.6 L735.7 344.9 L737.0 342.6 L740.1 342.7 L741.0 340.7 L741.8 338.6 L744.1 337.9 L744.9 336.0 L745.7 333.9 L747.3 332.3 L748.0 329.9 L750.0 328.4"/>
<path d="M612.5 380.0 L613.5 378.2 L614.5 376.4 L616.6 375.6 L617.3 373.2 L619.6 372.6 L620.9 371.0 L622.0 369.1 L624.2 368.5 L626.3 367.8 L628.2 369.0 L631.0 369.2 L631.6 371.2 L631.5 373.3 L632.4 375.9 L633.1 373.5 L634.8 372.5 L636.8 372.0 L638.8 371.5 L639.9 369.6 L641.1 367.9 L643.5 367.3 L643.5 364.4 L646.3 364.2 L646.8 361.8 L648.1 360.1 L649.5 358.6 L651.3 357.4 L653.6 357.1 L654.3 354.8 L656.4 354.4 L658.0 353.3 L659.4 351.6 L661.3 352.0 L663.3 350.9 L665.2 351.9"/>
<path d="M793.7 345.0 L793.9 346.9 L791.9 348.4 L793.3 350.6 L791.6 352.2 L792.5 354.3 L791.8 356.0 L789.9 358.3 L792.3 359.0 L792.5 361.1 L793.8 362.6 L794.8 364.2 L795.6 365.9 L796.9 366.9 L798.3 369.1 L800.9 368.6 L802.8 369.9 L805.3 370.7 L806.3 372.5 L807.5 374.2 L808.2 376.4 L810.5 377.1 L812.3 380.0"/>
<path d="M183.2 382.7 L184.6 383.9 L186.0 385.1 L187.7 386.0 L187.8 388.5 L190.5 388.4 L191.0 390.5 L189.2 392.6 L190.0 395.4 L189.0 397.3 L188.8 399.3 L189.9 400.6 L190.6 402.7 L191.3 404.7 L193.0 406.0 L194.9 406.8 L197.0 405.9 L198.9 406.3 L201.3 406.4 L202.4 408.3 L203.4 410.2 L205.4 410.8 L206.7 412.3 L208.8 412.9 L209.1 415.2 L211.3 416.5 L211.9 418.6 L212.1 420.8 L212.3 422.8 L213.2 424.7 L214.1 426.5 L214.0 428.5 L214.4 430.5 L214.5 432.4 L213.6 434.5 L214.7 437.0 L212.3 436.3 L210.3 436.9 L208.3 439.3 L205.9 437.3 L206.7 439.0 L208.5 440.1 L208.7 442.2 L209.4 444.4 L212.1 444.6 L212.9 446.8 L215.0 447.4 L216.3 449.5 L217.9 451.4 L220.5 451.4 L222.6 451.6 L224.5 452.5 L226.3 454.0 L226.6 451.4 L228.0 449.6 L230.1 448.1"/>
<path d="M191.0 390.5 L192.7 391.2 L194.5 391.8 L196.3 392.6 L198.1 393.1 L199.8 394.0 L201.5 394.7 L203.3 395.3 L205.1 395.8 L206.8 396.6 L208.8 397.0 L210.5 397.7 L211.5 399.9 L213.1 400.8 L215.7 399.8 L216.6 402.2 L218.5 402.6 L220.4 403.0 L222.2 403.8 L223.4 405.5 L225.2 406.1 L226.6 407.5 L228.3 408.4 L230.0 408.3 L232.1 409.5 L234.1 409.8 L236.0 409.5 L237.9 408.5 L239.4 407.2 L241.1 406.4 L242.9 406.0 L245.2 406.9 L246.4 404.9 L248.1 404.3 L250.3 404.7 L251.4 402.8 L253.3 402.6 L254.9 401.7 L256.2 400.2 L258.4 400.6 L260.2 400.4 L261.3 398.3 L263.3 397.7 L265.2 398.1 L267.2 397.3 L269.2 398.3 L270.7 398.8 L272.4 399.8 L274.0 400.8 L275.0 402.6 L277.3 402.5 L278.9 404.1 L281.0 404.5 L282.7 405.7 L285.1 405.5 L287.2 407.4 L287.3 404.6 L288.7 402.8 L291.2 401.6 L292.7 399.8 L293.1 397.3 L294.5 395.2 L296.4 394.6 L298.4 394.5 L300.4 395.1 L302.3 393.9 L304.1 393.6 L306.2 393.8 L308.0 392.7 L310.2 393.3 L312.8 392.5 L312.7 390.2 L312.1 387.9 L311.9 385.3 L314.0 384.2 L315.4 382.1 L318.2 382.1 L319.8 380.4 L321.7 379.4 L323.4 377.9 L325.7 377.7 L327.3 376.0 L328.2 373.8 L330.4 372.4 L330.7 370.0"/>
<path d="M312.1 392.5 L314.1 393.9 L315.9 395.4 L315.5 397.5 L316.9 399.3 L317.2 401.3 L317.4 403.3 L318.0 404.5 L319.9 405.2 L321.9 405.5 L323.9 405.8 L326.5 404.7 L327.6 406.9 L329.6 409.2 L327.9 411.0 L327.9 413.0 L329.2 415.0 L327.0 416.8 L326.8 418.8 L327.4 420.8 L327.6 422.8 L328.7 424.7 L329.1 426.6 L328.1 428.6 L329.3 430.5 L329.1 432.5 L329.1 434.4 L329.7 436.6 L328.5 438.4 L328.2 440.3 L327.0 442.1 L327.4 444.2 L326.8 446.1 L326.8 448.1 L327.0 450.2 L328.1 452.0 L329.0 453.8 L328.1 456.3 L329.0 458.8 L330.8 459.7 L332.5 460.6 L334.6 461.1 L336.3 462.1 L337.8 463.4 L339.6 464.2 L340.3 466.6 L342.3 467.1 L343.3 469.1 L345.5 469.6 L344.7 471.8 L345.4 473.7 L347.6 475.3 L347.5 477.3 L346.6 479.9 L348.7 481.3 L350.0 483.3"/>
<path d="M278.9 481.3 L280.8 481.2 L282.8 481.6 L284.8 481.7 L286.5 480.5 L288.4 479.8 L290.5 480.1 L292.4 479.4 L294.7 480.0 L296.6 479.3 L298.6 478.5 L299.7 477.1 L301.0 475.9 L301.4 473.8 L303.0 472.9 L304.2 470.9 L306.4 472.3 L308.1 470.2 L310.3 471.7 L312.0 469.9 L314.1 471.0 L316.1 470.2 L318.0 470.4 L319.9 471.4 L321.8 469.5 L323.7 469.4 L325.9 471.0 L327.8 469.9 L329.5 468.7 L331.9 470.1 L332.8 469.2 L335.6 469.7 L336.3 471.8 L338.1 472.9 L339.1 474.5 L339.9 476.3 L341.6 476.7 L343.2 478.5 L345.7 477.8 L347.3 479.4"/>
<path d="M468.9 370.0 L469.8 371.9 L469.3 374.0 L469.7 376.0 L469.7 378.0 L471.5 379.5 L472.2 381.5 L473.2 383.4 L473.8 385.4 L473.5 387.8 L475.2 390.2 L472.8 390.7 L471.2 392.6 L469.3 393.6 L468.1 395.4 L466.3 397.0 L465.8 399.1 L466.0 401.6 L464.7 403.3 L464.3 405.4 L462.1 406.8 L461.5 409.4 L462.5 411.3 L463.4 413.3 L464.8 415.4 L466.5 416.8 L468.6 417.4 L471.1 417.3 L472.3 419.3 L474.1 420.1 L475.0 421.8 L476.6 422.8 L478.7 423.5 L480.7 424.4 L482.6 425.5 L484.8 426.3 L486.4 427.3 L486.6 429.7 L487.8 430.8 L488.4 432.9 L490.0 434.6 L491.2 436.5 L491.8 438.6 L493.8 439.8 L493.4 442.0 L494.7 443.4 L495.6 445.8 L493.9 446.8 L491.8 447.1 L490.3 448.6 L488.3 449.2 L486.4 449.9 L485.0 451.3 L483.6 452.7 L481.6 453.0 L480.3 454.5 L478.6 455.4 L477.1 456.4 L475.3 457.3 L474.1 459.0 L471.8 459.2 L469.9 459.8 L469.1 462.0 L466.9 463.1 L465.0 464.4 L464.0 466.7"/>
<path d="M492.3 438.4 L493.0 436.5 L495.2 436.1 L496.5 434.7 L498.3 433.1 L498.4 430.3 L499.7 428.4 L501.6 426.9 L502.4 424.9 L503.0 422.5 L505.0 421.0 L506.0 418.6 L507.8 419.8 L510.1 418.8 L512.0 419.4 L513.7 421.3 L515.7 420.5 L517.6 419.8 L519.9 420.4 L521.7 419.6 L523.3 418.1 L525.6 417.9 L527.7 417.2 L529.1 415.3 L531.6 414.9 L532.9 412.6 L535.1 411.7 L536.4 410.3 L538.1 409.5 L540.0 409.1"/>
<path d="M464.0 466.7 L463.9 463.3 L461.1 462.3 L461.5 459.6 L459.4 458.2 L459.9 455.1 L457.0 455.4 L457.1 452.7 L455.5 451.8 L454.9 449.9 L454.2 448.1 L451.8 447.2 L451.4 445.5 L449.3 445.1 L447.5 446.4 L445.6 446.9 L443.7 447.3 L440.9 446.7 L439.9 448.5 L439.1 450.4 L439.2 452.8 L436.8 453.9 L436.7 456.1 L436.2 458.2 L434.5 459.9 L433.2 461.9 L431.8 464.7 L429.8 463.7 L427.9 464.1 L425.8 463.7 L424.1 465.3 L424.0 467.4 L422.1 468.2 L419.9 467.5 L417.4 467.8 L416.7 469.8 L414.6 470.3 L414.4 473.1 L412.9 474.1 L411.5 475.3 L409.0 475.4 L408.1 477.1 L406.8 478.4 L406.1 480.3 L404.5 481.3 L402.6 482.0 L402.5 484.5 L401.1 485.8 L399.9 487.2 L398.0 487.8 L395.9 489.0 L396.3 491.1 L396.4 493.1 L395.9 495.0 L396.4 497.1 L394.6 498.9 L395.7 500.9 L395.8 502.9 L395.4 504.8 L394.2 506.7 L394.7 508.7"/>
<path d="M464.0 466.7 L466.2 466.6 L468.4 467.2 L470.6 467.3 L472.9 467.6 L474.6 468.4 L476.0 469.7 L478.0 469.7 L479.4 471.3 L481.6 470.9 L483.0 472.3 L484.6 473.2 L486.5 473.5 L487.6 475.4 L489.7 475.2 L490.9 476.9 L492.5 477.9 L494.7 477.2 L495.9 479.2 L497.6 479.7 L499.4 480.1 L501.7 479.5 L503.0 481.1 L504.5 482.2 L506.5 482.2 L508.3 482.8 L509.8 483.9 L511.4 484.8 L512.3 486.8 L514.4 486.9 L515.9 488.0 L517.7 489.1 L519.4 490.4 L521.8 489.7 L523.9 489.8 L525.2 492.4 L527.3 492.8 L529.1 493.3 L531.1 493.3 L533.0 493.2 L534.9 493.6 L536.6 494.5 L538.2 495.4 L540.0 496.0"/>
<path d="M340.0 508.7 L341.8 508.4 L343.6 508.1 L345.4 507.8 L347.1 507.2 L348.9 507.0 L350.7 506.7 L352.4 506.3 L354.1 505.7 L355.9 505.3 L357.7 505.1 L359.6 505.3 L361.4 503.9 L363.4 504.1 L365.3 503.4 L367.5 504.2 L369.5 504.1 L371.2 502.5 L373.4 503.5 L375.0 501.2 L377.2 502.5 L379.2 502.4 L380.9 500.6 L383.0 501.5 L385.0 500.9 L386.1 501.1 L389.3 502.3 L390.1 504.3 L391.0 506.2 L392.8 507.2 L394.7 508.1 L396.5 509.1 L396.5 511.9 L398.6 512.6 L399.1 514.7 L401.8 514.6 L402.0 517.0 L403.3 518.3 L404.4 519.8 L407.2 519.6 L407.9 521.5 L409.7 522.3 L409.9 524.7 L411.8 525.4 L412.2 527.6 L414.4 528.0 L415.1 529.9 L416.2 531.4 L418.5 531.7 L419.3 533.5 L420.0 535.4 L422.0 536.0 L423.8 537.1 L425.5 538.4 L426.3 540.6 L428.7 541.0 L429.8 543.1 L431.7 543.3 L433.7 543.6 L436.4 543.3 L436.6 545.6 L437.3 547.5 L439.6 548.2 L440.7 549.8 L440.8 552.1 L442.4 553.3 L444.0 554.6 L445.4 556.0 L445.0 558.4 L446.7 559.6 L447.4 561.3 L449.3 560.8 L451.3 561.4 L453.3 561.5 L455.2 560.4 L457.1 559.8 L459.2 561.6 L461.2 561.3 L462.9 559.1 L465.0 560.0 L467.0 560.0 L468.9 559.1 L471.0 559.5 L473.0 559.8 L474.8 558.7 L476.8 558.6 L478.8 558.5 L480.7 558.9 L482.7 559.0 L484.7 559.2 L486.6 559.8 L488.4 561.3 L490.4 560.9 L492.3 561.7 L494.2 562.1 L496.4 562.0 L497.8 559.7 L500.5 560.8 L501.8 558.4 L504.2 559.1 L506.7 558.7 L508.6 557.7 L510.1 559.4 L511.7 561.0 L512.6 562.8 L513.0 565.2 L514.9 566.2 L515.8 568.3 L518.0 568.6 L519.7 570.0"/>
<path d="M347.3 479.4 L346.9 477.4 L347.5 475.6 L348.7 477.4 L349.4 479.2 L349.3 481.3 L349.8 483.3 L349.8 485.2 L349.8 487.2 L349.9 489.1 L349.9 491.1 L349.7 493.1 L349.9 495.0 L349.7 496.9 L349.7 498.9 L349.6 500.9 L349.6 502.8 L349.9 504.8 L349.8 506.7"/>
<path d="M678.7 493.0 L680.0 491.2 L681.2 489.4 L681.7 487.2 L682.6 485.2 L683.9 483.6 L686.3 483.1 L686.6 480.5 L687.9 478.8 L689.6 477.8 L691.2 476.6 L692.9 475.6 L694.3 474.3 L695.8 472.7 L698.0 472.2 L699.9 471.2 L702.1 470.8 L704.0 469.7 L705.9 469.2 L707.9 469.2 L709.9 469.7 L711.9 469.4 L713.8 470.1 L715.8 470.3 L717.7 469.4 L719.7 468.7 L721.6 470.1 L723.6 470.2 L725.5 469.4 L727.5 469.9 L729.5 469.0 L731.7 470.2 L733.8 469.8 L735.9 469.6 L738.0 469.8 L740.0 468.6"/>
<path d="M540.0 373.9 L541.7 375.3 L543.8 375.3 L545.7 376.0 L547.2 376.5 L549.5 376.8 L550.2 378.7 L551.9 380.7 L553.9 380.1 L555.6 379.0 L557.4 377.6 L559.5 377.6 L561.5 378.9 L563.4 376.9 L565.0 377.6 L567.2 376.3 L567.2 373.8 L568.1 372.1 L569.6 371.0 L571.2 370.0"/>
<path d="M577.1 370.0 L577.8 371.9 L576.7 373.9 L576.8 375.9 L577.1 377.8 L577.7 379.8 L576.8 382.3 L578.8 383.3 L581.0 383.7 L583.0 384.6 L584.7 383.1 L586.4 381.7 L588.7 381.4 L590.7 380.9 L593.1 380.6 L594.5 382.8 L596.9 382.4 L599.1 383.3 L600.7 384.7 L600.3 387.6 L602.8 389.0 L604.5 388.0 L605.6 386.3 L606.3 384.1 L608.1 383.4 L609.8 382.2 L610.7 380.2 L613.5 380.0 L614.0 377.6 L615.2 376.0 L617.6 375.9 L618.1 373.5 L620.9 373.4 L622.0 370.0"/>
<path d="M629.8 370.0 L629.9 372.8 L631.5 374.2 L633.4 373.2 L636.1 374.5 L637.4 372.1 L639.0 371.4 L641.6 370.0"/>
<path d="M676.7 370.0 L677.5 372.1 L679.0 373.6 L680.5 375.0 L683.5 375.6 L683.4 378.4 L684.4 380.5 L686.5 380.0 L688.1 378.5 L690.1 377.9 L692.3 377.7 L694.1 376.7 L696.2 376.8 L698.0 375.4 L700.0 375.0 L702.3 375.8 L704.1 374.7 L706.1 374.4 L708.4 374.3 L709.1 372.4 L709.9 370.6 L711.9 370.0"/>
<path d="M727.5 370.0 L729.3 371.2 L731.1 372.2 L733.6 371.5 L735.1 374.0 L737.8 372.7 L740.0 373.9"/>
<path d="M727.5 372.0 L726.8 374.1 L724.7 375.5 L723.9 377.5 L724.2 380.0 L722.2 381.5 L722.0 383.6 L722.4 386.2 L719.6 386.6 L719.7 389.0 L718.5 390.5 L717.1 391.9 L715.7 393.5 L717.8 394.3 L718.4 396.6 L719.6 398.3 L721.6 399.3 L721.4 401.4 L722.1 403.3 L722.1 405.3 L723.9 407.0 L723.9 409.0 L724.4 411.0 L726.0 412.7 L725.0 415.3 L726.4 417.0 L728.4 418.6 L727.7 420.8 L728.5 422.7 L729.4 424.5 L729.8 426.5 L729.6 428.6 L730.1 430.7 L728.7 432.5 L728.5 434.4 L729.0 436.5 L727.0 438.2 L728.5 440.0 L728.7 442.1 L727.8 444.4 L729.6 446.0 L729.7 448.2 L728.7 450.0 L728.3 452.1 L727.5 454.0 L729.4 454.5 L731.4 454.9 L733.6 454.5 L735.0 456.5 L737.8 456.5 L740.0 457.9"/>
<path d="M540.0 407.1 L541.7 406.2 L542.1 404.0 L543.4 402.7 L545.4 402.1 L545.8 399.9 L548.2 399.8 L549.7 398.6 L550.3 396.1 L552.7 396.1 L554.0 394.6 L555.8 393.6 L557.7 392.0 L559.1 390.1 L559.3 387.6 L560.3 385.6 L559.8 384.3 L561.9 383.6 L563.4 381.7"/>
<path d="M555.6 393.4 L556.6 395.5 L557.8 397.6 L558.6 399.7 L560.9 401.0 L561.9 402.9 L561.2 405.4 L563.0 407.0 L563.7 409.0 L563.4 411.3 L565.4 412.7 L565.1 415.7 L567.4 415.7 L569.7 415.6 L570.9 418.1 L573.2 418.2 L575.7 418.0 L576.4 420.4 L578.1 421.3 L579.8 422.2 L581.5 423.0 L582.7 424.6 L585.2 423.7 L586.6 426.2 L588.7 426.0 L590.9 425.6 L592.8 426.8 L594.5 425.3 L596.7 424.9 L598.8 424.1 L600.5 422.8 L602.3 421.4 L604.4 421.5 L606.3 420.9 L608.9 421.0 L610.2 419.3 L610.9 417.1 L611.4 414.9 L610.8 412.6 L612.3 410.6 L611.5 408.2 L611.8 407.1 L614.6 406.5 L615.7 409.0 L618.1 408.0 L620.0 409.7 L622.0 408.8 L624.0 409.3 L625.9 408.9 L627.9 409.1 L629.8 409.7 L631.6 410.9 L633.8 410.3 L636.0 410.9 L636.1 413.2 L638.3 414.6 L638.9 416.9 L638.3 418.8 L638.1 420.8 L638.6 422.8 L637.1 424.6 L637.2 426.7 L637.6 428.8 L636.5 430.6 L636.6 432.3 L636.5 434.4 L637.5 436.2 L637.7 438.2 L637.6 440.3 L636.8 442.1 L637.1 444.3 L636.3 446.2 L635.7 448.1 L634.3 449.3 L632.5 450.1 L632.0 452.6 L629.6 452.1 L627.8 453.2 L625.0 453.9 L625.3 455.9 L626.5 458.0 L626.2 460.0 L624.3 461.8 L625.5 463.7 L624.9 465.7 L626.2 467.6 L625.3 469.6 L625.7 471.6 L625.7 473.5 L626.8 475.4 L624.9 477.5 L625.1 479.5 L625.6 481.4 L626.0 483.3 L627.1 485.2 L627.4 487.1 L626.2 489.2 L627.5 491.1 L627.6 493.0 L627.5 495.0"/>
<path d="M540.0 497.0 L542.0 496.3 L544.0 496.6 L545.9 497.8 L547.9 497.0 L549.8 497.7 L551.7 497.9 L553.5 498.0 L555.4 497.9 L557.2 498.1 L559.1 498.3 L560.9 498.0 L562.8 498.1 L564.6 498.1 L566.5 498.2 L568.4 498.2 L570.2 498.7 L572.1 498.4 L573.9 498.8 L575.8 498.4 L577.6 498.8 L579.5 498.7 L581.3 498.8 L583.2 498.9 L585.0 498.7 L586.9 498.8 L588.8 498.8 L590.6 498.5 L592.5 498.3 L594.4 498.5 L596.2 498.3 L598.1 498.0 L599.9 498.0 L601.8 498.0 L603.7 497.6 L605.5 497.4 L607.4 497.4 L609.3 497.2 L611.1 497.1 L613.0 496.8 L614.9 497.0 L616.7 496.9 L618.6 496.6 L620.4 496.5 L622.3 496.3 L624.2 496.5 L626.0 496.3 L627.9 496.1 L629.8 495.7 L631.6 495.6 L633.5 495.7 L635.3 495.3 L637.2 495.4 L639.1 495.1 L640.9 494.8 L642.8 494.8 L644.7 495.0 L646.5 494.6 L648.4 494.6 L650.3 494.5 L652.1 494.2 L654.0 494.1 L655.9 494.1 L657.7 493.9 L659.6 493.7 L661.4 493.6 L663.3 493.4 L665.2 493.2 L667.0 493.2 L668.9 492.4 L670.9 493.8 L672.8 492.5 L674.8 492.4 L676.7 494.0 L678.7 493.0"/>
<path d="M549.8 497.0 L550.1 499.0 L550.9 500.8 L550.2 503.0 L551.8 504.7 L551.7 506.7 L551.6 508.7 L550.9 510.6 L549.3 512.3 L550.5 513.9 L551.1 515.9 L552.7 517.1 L553.7 518.7 L553.5 520.5 L555.2 522.3 L554.8 524.3 L555.4 526.3 L554.9 528.3 L555.7 530.2 L556.5 532.1 L556.1 534.1 L556.4 536.0 L555.8 538.0 L556.5 540.0 L558.2 541.6 L558.2 544.0 L559.8 545.4 L561.0 547.0 L563.0 547.6 L564.3 549.1 L565.4 550.9 L567.3 551.6 L566.1 553.4 L565.5 555.4 L565.2 557.4 L564.1 559.3 L563.7 561.5 L562.2 563.2 L560.9 565.1 L561.3 568.0 L559.5 570.0"/>
<path d="M586.9 498.9 L587.7 500.6 L589.0 502.0 L590.3 503.5 L589.9 505.7 L591.6 507.0 L592.3 508.7 L592.9 510.5 L593.1 512.6 L593.0 514.8 L594.7 516.4 L594.3 518.7 L594.9 520.7 L597.1 522.1 L598.1 524.0 L598.5 526.0 L597.7 528.4 L598.8 530.2 L598.7 532.2 L598.8 534.2 L599.8 536.1 L600.3 538.0 L601.6 539.8 L602.0 541.7 L600.6 543.9 L601.1 545.8 L600.8 547.7 L601.0 549.7 L600.6 551.6 L600.5 553.6 L599.8 555.5 L601.3 557.8 L600.0 559.3 L599.8 561.2 L598.1 562.6 L597.5 564.4 L598.2 566.6 L598.0 568.5 L596.6 570.0"/>
<path d="M678.7 493.0 L679.4 495.2 L678.7 497.1 L677.7 498.9 L676.7 500.8 L677.4 502.5 L678.2 504.5 L678.7 506.5 L678.3 508.8 L679.9 511.3 L677.0 511.1 L674.5 512.8 L676.5 514.2 L676.7 516.6 L678.7 517.3 L680.8 518.3 L681.0 521.0 L683.9 521.8 L685.1 523.4 L685.9 526.4 L688.6 526.7 L690.9 527.7 L692.1 529.4 L693.5 530.9 L694.0 533.3 L696.4 533.5 L698.4 534.3 L700.1 535.8 L702.0 536.5 L703.7 538.1 L705.3 538.0 L706.3 540.0 L706.7 541.9 L705.3 543.8 L705.0 546.1 L707.5 547.5 L706.5 549.8 L706.7 551.9 L707.8 553.8 L709.7 554.5 L710.1 556.7 L711.5 557.8 L713.8 559.1 L714.2 561.6 L715.9 562.8 L718.0 562.9 L719.8 564.0 L721.7 564.5 L723.6 565.1 L725.6 565.2 L727.7 565.3 L729.7 565.2 L731.6 564.8 L733.4 564.5 L735.6 564.0 L737.8 563.0 L740.0 563.4"/>
<path d="M717.7 469.6 L718.8 471.5 L718.7 473.5 L718.7 475.4 L717.6 477.5 L718.7 479.4 L718.4 481.4 L719.9 483.2 L719.2 485.3 L718.6 487.3 L719.5 489.2 L718.7 491.3 L719.3 493.2 L720.7 495.0 L721.9 496.8 L720.7 499.0 L722.2 500.3 L723.8 501.6 L724.2 504.2 L725.5 505.8 L726.8 507.0 L727.6 509.1 L730.0 510.3 L731.2 512.1 L732.0 513.9 L732.0 516.5 L734.6 516.5 L735.9 518.0 L737.1 519.4 L738.0 521.0 L739.0 522.6 L739.3 524.5 L740.0 526.2"/>
<path d="M798.6 370.0 L799.4 372.0 L800.3 374.1 L801.7 375.5 L803.9 375.4 L805.1 377.1 L806.4 378.6 L808.1 379.7 L810.5 378.7 L812.2 380.3 L814.1 380.8 L816.2 381.1 L817.4 382.4 L819.5 383.2 L821.1 384.6 L821.8 386.8 L823.8 387.8 L825.8 388.7 L827.2 390.2 L828.4 391.9 L830.5 392.7 L831.1 395.0 L832.4 396.7 L834.3 397.7 L835.4 400.0 L837.2 401.1 L839.5 401.2 L839.0 403.1 L839.9 405.3 L839.8 407.2 L837.7 408.6 L838.1 411.2 L837.2 413.2 L834.8 415.0 L835.4 416.9 L837.0 418.7 L836.8 420.7 L837.2 422.4 L838.4 424.4 L840.2 426.0 L840.5 428.6 L840.5 430.7 L839.6 432.5"/>
<path d="M839.6 432.5 L837.6 434.5 L837.4 436.4 L836.7 438.3 L836.4 440.3 L836.3 442.2 L837.3 444.2 L835.9 446.1 L836.9 448.1 L836.8 450.1 L837.0 452.1 L835.8 454.0 L836.3 456.0 L835.8 458.0 L834.7 459.8 L834.1 461.7 L833.8 463.7 L834.8 465.9 L834.5 467.9 L833.7 469.7 L832.7 471.6 L831.9 473.7 L831.7 475.8 L831.2 477.9 L831.8 480.1 L831.7 482.6 L833.9 482.6 L835.8 483.4 L837.9 483.9 L839.6 485.2"/>
<path d="M740.0 450.1 L742.0 449.6 L744.1 449.4 L746.0 448.8 L748.1 448.5 L750.0 446.7 L751.1 448.7 L753.1 448.6 L754.6 449.7 L756.3 450.4 L757.8 451.5 L760.0 450.8 L761.4 451.7 L763.6 452.0 L765.4 451.2 L767.5 451.1 L769.5 449.9 L770.2 452.2 L773.1 452.0 L773.7 454.5 L775.7 455.3 L776.7 455.9 L779.2 456.5 L780.7 454.5 L782.7 454.2 L785.0 453.6 L787.1 453.9 L789.0 454.5 L791.0 454.8 L792.5 457.1 L794.9 456.0 L796.8 456.7 L798.8 457.0 L800.3 459.3 L802.5 459.0 L804.4 459.8 L806.3 460.3 L808.4 459.4 L810.4 459.4 L812.4 459.6 L814.5 460.3 L816.1 462.0 L817.3 463.5 L819.3 464.2 L820.0 465.9 L821.0 467.4 L822.3 468.7 L823.7 469.8 L825.4 471.4 L827.6 472.4 L828.6 474.5 L829.1 476.6 L830.6 478.3 L830.8 480.5 L831.8 482.3"/>
<path d="M740.0 526.2 L742.1 526.9 L743.4 529.1 L745.4 530.1 L747.1 530.8 L748.6 532.2 L749.8 534.0 L752.6 534.4 L752.8 536.8 L754.7 537.9 L755.7 540.4 L757.5 539.5 L759.5 539.5 L761.5 539.2 L763.5 539.0 L765.5 539.3 L767.5 539.3 L769.3 537.7 L771.3 538.5 L773.3 538.6 L775.1 537.4 L777.0 536.7 L779.0 537.4 L781.0 537.8 L783.0 537.2 L784.8 536.3 L787.0 537.0 L788.7 535.8 L790.9 536.6 L792.6 534.6 L794.7 535.1 L796.6 534.3 L798.8 535.1 L800.2 532.9 L802.3 534.1 L803.8 532.7 L805.6 532.2 L807.4 532.1"/>
<path d="M447.4 562.5 L449.2 562.3 L451.0 561.8 L452.9 561.8 L454.7 561.6 L456.6 561.3 L458.4 560.9 L460.2 560.7 L462.0 560.4 L463.8 560.2 L465.6 559.7 L467.5 559.7 L469.3 559.4 L471.1 559.0 L473.0 558.8 L474.8 558.7 L476.6 558.9 L478.3 559.3 L480.1 559.6 L481.9 559.8 L483.7 559.8 L485.5 560.1 L487.3 560.4 L489.1 560.7 L490.8 561.2 L492.6 561.5 L494.4 561.7 L496.3 562.2 L497.9 561.4 L499.2 559.6 L501.3 559.9 L502.7 558.6 L504.6 558.4 L505.9 556.9 L507.7 557.4 L508.2 559.2 L510.8 559.8 L510.8 561.9 L512.6 562.7 L513.6 564.6 L515.3 565.8 L515.7 568.4 L517.2 569.5 L517.5 571.5 L519.6 573.0 L519.2 575.3 L519.9 577.2 L520.9 579.1 L521.9 581.9 L523.7 580.6 L525.4 579.3 L527.0 579.1 L527.5 581.0 L528.1 583.0 L527.2 584.9 L528.5 586.9 L527.6 588.8 L527.4 590.8 L528.6 592.7 L527.2 594.7 L526.9 596.0 L529.0 595.5 L529.9 593.8 L530.7 592.0 L533.5 592.2 L533.3 589.4 L535.2 588.1 L537.7 588.4 L540.0 587.9"/>
<path d="M527.5 596.6 L524.3 596.6 L524.9 598.4 L524.4 600.2 L526.0 601.9 L524.8 603.8 L525.6 605.6 L525.5 607.6 L527.5 606.9 L529.5 607.5 L531.4 607.5 L533.4 607.8 L534.8 608.5 L535.6 610.3 L534.7 612.4 L535.8 614.3 L536.8 616.1 L536.2 618.2 L536.6 620.1 L537.6 621.9 L537.0 624.0 L537.3 624.8 L540.0 625.9"/>
<path d="M556.6 540.0 L558.6 541.6 L559.7 543.7 L561.4 544.8 L562.5 546.5 L563.6 548.2 L564.9 549.7 L566.9 550.5 L568.1 552.1 L569.8 554.2 L567.5 554.5 L567.0 556.6 L564.6 557.4 L565.8 559.8 L565.4 561.8 L564.1 563.5 L563.5 565.5 L561.7 566.3 L560.2 567.4 L559.5 569.3 L561.1 570.7 L561.7 572.9 L563.4 574.3 L562.1 575.6 L560.5 576.5 L559.3 578.1 L556.9 577.7 L556.1 580.0 L554.4 580.6 L552.3 580.8 L550.8 581.8 L549.2 582.7 L547.6 583.7 L545.9 584.3 L544.2 585.0 L542.6 586.0 L541.7 588.0 L540.0 588.8"/>
<path d="M600.5 540.0 L601.0 541.9 L600.5 544.1 L602.7 545.7 L602.6 547.7 L601.6 549.4 L601.4 551.6 L601.7 554.0 L600.5 555.7 L598.6 557.2 L598.7 559.6 L598.8 561.6 L596.3 562.6 L597.2 565.0 L595.5 566.7 L597.2 567.8 L599.1 568.7 L600.2 570.8 L602.7 570.5 L604.4 572.1 L606.7 571.7 L607.4 573.4 L609.6 575.0 L609.3 577.1 L609.1 579.2 L609.8 581.7 L612.4 581.5 L612.9 584.0 L614.5 585.1 L616.8 585.4 L617.7 587.3 L619.8 587.8 L621.2 589.0 L622.7 590.6 L623.1 592.6 L622.7 594.9 L624.0 596.6"/>
<path d="M706.0 540.0 L706.6 541.9 L707.3 543.8 L707.6 546.4 L705.1 546.8 L704.4 548.7 L703.0 550.0 L702.0 551.8 L704.2 552.8 L705.8 554.7 L707.8 555.6 L707.9 557.7 L708.6 559.6 L708.7 561.6 L710.0 563.3 L711.7 564.2 L713.0 565.5 L713.6 567.8 L716.0 567.3 L717.6 569.0 L719.7 569.3"/>
<path d="M740.0 457.9 L740.1 459.8 L741.8 461.4 L741.7 463.4 L741.8 466.0 L739.5 465.5 L737.6 466.2 L735.5 466.3 L734.0 468.6 L731.8 468.3"/>
<path d="M740.0 450.1 L741.6 452.3 L740.8 454.8 L740.0 457.9"/>
</g>
<g clip-path="url(#pc0)">
<path d="M718.3 480.0 L719.2 481.8 L718.7 483.8 L718.2 485.7 L718.5 487.6 L718.6 489.5 L719.5 491.2 L718.9 493.1 L719.8 494.9 L721.0 496.5 L720.4 498.5 L721.2 499.5 L721.6 502.2 L723.2 503.4 L725.5 503.5 L727.2 504.7 L727.6 506.9 L729.8 507.7 L731.0 509.2 L732.0 510.6 L733.3 512.0 L734.5 513.6 L735.2 514.6 L737.2 516.2 L736.0 518.5 L737.3 520.3 L737.3 522.9 L739.0 523.9 L741.4 524.0 L742.3 526.0 L744.8 526.4 L746.0 527.9 L746.4 529.9 L746.7 531.9 L748.8 534.8 L751.0 534.5 L752.8 536.4 L754.1 536.5 L756.3 538.4 L756.6 540.8 L758.6 540.8 L760.7 541.0 L762.3 539.0 L764.4 539.5 L766.3 540.2 L768.0 539.2 L769.8 539.2 L771.6 539.1 L773.3 538.3 L775.1 537.6 L777.0 538.0 L778.8 536.9 L780.5 535.6 L782.8 535.7 L784.2 533.8 L786.2 533.1 L788.4 533.4 L790.5 533.3 L792.2 533.1 L794.5 533.4 L796.9 533.4 L798.9 535.5 L800.7 535.5 L802.5 534.9 L804.3 534.9 L806.1 534.2 L807.9 534.0 L809.7 533.9"/>
<path d="M680.0 519.1 L681.5 520.3 L683.5 520.6 L684.1 523.1 L685.8 524.0 L687.9 524.2 L689.1 525.4 L690.8 527.0 L691.5 529.0 L692.2 531.0 L692.3 533.5 L694.4 533.5 L695.1 535.9 L697.7 535.1 L699.1 536.3 L700.8 537.1 L701.5 539.5 L703.6 539.9 L705.1 541.3 L707.0 542.5 L706.3 544.6 L706.8 546.7 L707.2 549.1 L705.7 550.9 L704.8 553.1 L703.6 554.2 L705.3 556.2 L707.5 556.5 L709.3 556.6 L708.9 558.7 L709.9 560.7 L709.9 562.7 L710.9 564.3 L711.9 565.8 L712.6 567.8 L715.6 567.7 L717.5 569.7 L719.6 569.9 L721.7 569.5 L723.8 569.8"/>
</g>
</g>
<g fill="none" stroke="#0000ff" stroke-width="1.35" stroke-linejoin="round">
<g clip-path="url(#ex)">
<path d="M154.9 182.9 C155.1 185.0 155.4 193.2 155.9 195.6 C156.4 198.0 156.7 197.5 157.8 197.2 C158.9 196.9 160.8 193.8 162.7 193.7 C164.6 193.6 166.7 194.0 169.5 196.6 C172.3 199.2 176.4 204.9 179.3 209.3 C182.2 213.7 185.0 218.4 187.1 223.0 C189.2 227.6 190.5 231.7 192.0 236.6 C193.5 241.5 194.3 249.8 195.9 252.3 C197.5 254.9 199.7 251.6 201.8 251.9 C203.9 252.2 205.5 254.0 208.6 254.2 C211.7 254.4 216.1 253.2 220.3 253.2 C224.5 253.2 230.1 254.1 234.0 254.2 C237.9 254.3 241.2 252.8 243.8 253.8 C246.4 254.8 247.7 258.2 249.6 260.1 C251.5 262.1 253.9 264.8 255.5 265.5 C257.1 266.2 257.4 265.6 259.4 264.4 C261.3 263.2 264.3 259.1 267.2 258.1 C270.1 257.1 273.8 258.0 277.0 258.5 C280.2 259.0 283.1 259.9 286.7 261.1 C290.3 262.3 294.5 264.4 298.4 265.5 C302.3 266.6 306.6 266.2 310.2 267.9 C313.8 269.6 316.3 272.1 319.9 275.7 C323.5 279.3 327.7 284.2 331.6 289.4 C335.5 294.6 340.3 303.3 343.4 307.0 C346.5 310.7 348.9 311.0 350.0 311.8"/>
<path d="M153.9 205.4 C154.4 205.2 155.7 203.8 156.8 204.4 C157.9 205.1 159.4 206.1 160.7 209.3 C162.0 212.6 162.5 219.0 164.6 223.9 C166.7 228.8 170.6 234.7 173.4 238.6 C176.2 242.5 178.9 244.2 181.2 247.4 C183.5 250.7 185.9 255.0 187.1 258.1 C188.2 261.2 188.4 261.3 188.1 265.9 C187.8 270.5 185.8 279.6 185.2 285.5 C184.5 291.4 184.9 295.9 184.2 301.1 C183.5 306.3 182.7 310.9 181.2 316.7 C179.7 322.5 177.3 329.7 175.4 336.2 C173.5 342.7 171.3 348.5 169.5 355.8 C167.7 363.1 164.9 377.6 164.6 380.0 C164.3 382.4 167.8 369.1 167.6 370.0 C167.4 370.9 165.0 380.1 163.7 385.6 C162.4 391.1 161.4 398.1 159.8 403.2 C158.2 408.2 154.9 413.8 153.9 415.9"/>
<path d="M290.6 182.9 C293.2 184.3 302.0 190.0 306.2 191.3 C310.4 192.6 311.4 189.3 316.0 190.7 C320.6 192.1 327.9 197.2 333.6 199.5 C339.3 201.8 346.0 203.7 350.0 204.4 C354.0 205.1 354.6 203.6 357.8 203.8 C361.1 204.0 365.6 205.1 369.5 205.8 C373.4 206.6 377.9 208.1 381.2 208.3 C384.5 208.5 386.2 207.3 389.1 207.0 C392.0 206.7 395.6 205.5 398.8 206.4 C402.1 207.3 405.0 210.6 408.6 212.2 C412.2 213.8 416.4 214.5 420.3 216.1 C424.2 217.7 428.4 219.4 432.0 222.0 C435.6 224.6 439.2 228.9 441.8 231.8 C444.4 234.7 445.1 237.5 447.7 239.6 C450.3 241.7 453.8 242.9 457.4 244.5 C461.0 246.1 465.8 247.2 469.1 249.3 C472.4 251.4 475.2 254.0 477.0 257.1 C478.8 260.2 478.3 264.6 479.9 267.9 C481.5 271.2 484.3 274.3 486.7 276.7 C489.1 279.1 491.9 280.6 494.5 282.5 C497.1 284.4 499.7 285.9 502.3 288.4 C504.9 290.8 507.6 293.8 510.2 297.2 C512.8 300.6 515.9 304.3 518.0 308.9 C520.1 313.4 521.9 319.3 522.9 324.5 C523.9 329.7 522.7 335.3 523.8 340.2 C524.9 345.1 527.1 349.2 529.7 353.8 C532.3 358.4 536.6 363.1 539.5 367.5 C542.4 371.9 545.9 377.9 547.3 380.0 C548.7 382.1 546.4 377.9 547.8 379.8 C549.2 381.7 553.8 387.6 555.6 391.5 C557.4 395.4 558.3 399.3 558.6 403.2 C558.9 407.1 557.5 410.7 557.6 414.9 C557.8 419.1 558.2 424.7 559.5 428.6 C560.8 432.5 563.4 435.1 565.4 438.4 C567.4 441.6 569.6 444.2 571.2 448.1 C572.8 452.0 574.4 457.2 575.2 461.8 C576.0 466.4 575.5 470.6 576.1 475.5 C576.8 480.4 578.9 487.5 579.1 491.1 C579.3 494.7 576.5 494.4 577.1 497.0 C577.8 499.6 580.7 503.1 583.0 506.7 C585.3 510.3 587.5 514.5 590.8 518.4 C594.0 522.3 598.6 526.6 602.5 530.2 C606.4 533.8 610.3 537.0 614.2 539.9 C618.1 542.8 622.6 545.1 625.9 547.7 C629.2 550.3 632.0 552.6 633.8 555.5 C635.6 558.4 636.2 562.9 636.7 565.3 C637.2 567.7 637.2 568.7 636.7 570.0 C636.2 571.3 635.3 572.2 633.8 573.2 C632.3 574.2 630.2 575.8 627.9 576.1 C625.6 576.4 622.7 576.0 620.1 575.2 C617.5 574.4 614.9 572.8 612.3 571.2 C609.7 569.6 606.8 566.5 604.5 565.4 C602.2 564.3 599.9 564.1 598.6 564.4 C597.3 564.7 596.6 565.5 596.6 567.3 C596.6 569.1 597.6 572.3 598.6 575.2 C599.6 578.1 602.5 581.6 602.5 584.9 C602.5 588.1 599.6 591.4 598.6 594.7 C597.6 598.0 596.8 601.2 596.6 604.5 C596.4 607.8 597.0 611.0 597.6 614.2 C598.2 617.5 599.7 621.1 600.5 624.0 C601.3 626.9 602.8 629.2 602.5 631.8 C602.2 634.4 598.9 637.3 598.6 639.6 C598.3 641.9 599.2 644.4 600.5 645.5 C601.8 646.6 603.8 647.0 606.4 646.4 C609.0 645.8 613.0 643.4 616.2 641.6 C619.5 639.8 622.6 638.0 625.9 635.7 C629.1 633.4 632.4 630.0 635.7 627.9 C639.0 625.8 642.9 624.0 645.5 623.0 C648.1 622.0 649.0 621.4 651.3 622.0 C653.6 622.6 656.6 625.3 659.1 626.9 C661.6 628.5 665.4 630.0 666.0 631.8 C666.6 633.6 664.8 635.8 663.0 637.7 C661.2 639.7 658.5 641.7 655.2 643.5 C652.0 645.3 647.4 647.1 643.5 648.4 C639.6 649.7 635.4 650.6 631.8 651.3 C628.2 651.9 625.6 651.6 622.0 652.3 C618.4 652.9 614.2 654.1 610.3 655.2 C606.4 656.3 602.5 657.8 598.6 659.1 C594.7 660.4 591.5 662.0 586.9 663.0 C582.3 664.0 576.4 664.3 571.2 665.0 C566.0 665.7 559.8 665.7 555.6 667.0 C551.4 668.3 548.5 671.2 545.9 672.8 C543.3 674.4 541.0 676.1 540.0 676.7"/>
<path d="M350.0 311.2 C351.3 312.1 355.2 314.1 357.8 316.7 C360.4 319.2 362.7 322.6 365.6 326.5 C368.5 330.4 372.1 335.6 375.4 340.2 C378.7 344.8 381.6 349.9 385.2 353.8 C388.8 357.7 393.6 360.3 396.9 363.6 C400.1 366.9 402.8 370.7 404.7 373.4 C406.6 376.1 407.8 378.9 408.6 380.0 C409.4 381.1 409.2 378.2 409.3 379.8 C409.4 381.4 408.5 385.6 409.3 389.5 C410.1 393.4 413.1 399.3 414.2 403.2 C415.3 407.1 414.6 410.1 416.2 413.0 C417.8 415.9 421.1 418.2 424.0 420.8 C426.9 423.4 430.7 426.2 433.8 428.6 C436.9 431.0 441.1 433.4 442.5 435.4 C443.9 437.3 443.6 438.2 442.5 440.3 C441.4 442.4 438.5 444.9 435.7 448.1 C432.9 451.4 429.5 456.2 425.9 459.8 C422.3 463.4 417.8 466.3 414.2 469.6 C410.6 472.9 407.8 476.1 404.5 479.4 C401.2 482.6 397.0 486.5 394.7 489.1 C392.4 491.7 392.1 492.1 390.8 495.0 C389.5 497.9 388.2 502.5 386.9 506.7 C385.6 510.9 383.8 516.2 383.0 520.4 C382.2 524.6 382.2 527.9 382.0 532.1 C381.8 536.3 382.5 543.2 382.0 545.8 C381.5 548.4 380.4 546.3 379.1 547.8 C377.8 549.3 375.4 552.6 374.2 554.6 C373.0 556.6 372.4 557.7 372.2 559.5 C372.0 561.3 373.4 563.4 373.2 565.4 C373.0 567.4 372.5 569.4 371.2 571.2 C369.9 573.0 367.3 574.3 365.4 576.1 C363.4 577.9 361.0 579.5 359.5 582.0 C358.0 584.5 357.7 587.7 356.6 590.8 C355.5 593.9 354.2 597.6 352.7 600.5 C351.2 603.4 349.9 606.1 347.8 608.4 C345.7 610.7 339.6 614.5 340.0 614.2 C340.4 613.9 348.3 607.7 350.0 606.4"/>
<path d="M634.0 182.9 C634.2 184.4 634.0 187.6 635.0 191.7 C636.0 195.8 637.4 203.1 639.8 207.3 C642.2 211.5 645.7 213.7 649.6 217.1 C653.5 220.5 659.1 225.6 663.3 227.9 C667.5 230.2 670.5 230.5 675.0 231.2 C679.5 231.8 685.4 232.2 690.6 231.8 C695.8 231.4 700.3 230.0 706.2 228.8 C712.1 227.6 718.5 225.9 725.8 224.5 C733.1 223.1 746.0 221.2 750.0 220.6"/>
<path d="M750.0 266.9 C747.3 267.7 738.9 269.9 733.6 271.8 C728.3 273.8 723.2 276.0 718.0 278.6 C712.8 281.2 707.5 283.6 702.3 287.4 C697.1 291.1 691.2 296.5 686.7 301.1 C682.2 305.7 677.9 310.9 675.0 314.8 C672.1 318.7 670.2 320.9 669.1 324.5 C668.0 328.1 668.0 331.6 668.2 336.2 C668.4 340.8 669.3 347.0 670.1 351.9 C670.9 356.8 671.9 362.4 673.0 365.5 C674.1 368.6 675.0 368.0 677.0 370.4 C679.0 372.8 684.8 380.1 684.8 380.0 C684.8 379.9 676.8 370.0 676.7 370.0 C676.7 370.0 681.2 376.9 684.5 379.8 C687.8 382.7 692.0 385.0 696.2 387.6 C700.4 390.2 706.0 393.8 709.9 395.4 C713.8 397.0 716.8 396.0 719.7 397.3 C722.6 398.6 724.9 401.6 727.5 403.2 C730.1 404.8 733.2 406.5 735.3 407.1 C737.4 407.8 737.3 407.6 740.0 407.1 C742.7 406.6 747.8 403.9 751.7 404.2 C755.6 404.5 759.5 407.2 763.4 409.1 C767.3 411.1 771.9 414.3 775.2 415.9 C778.5 417.5 780.4 418.8 783.0 418.8 C785.6 418.8 787.5 416.5 790.8 415.9 C794.0 415.3 799.6 414.6 802.5 415.3 C805.4 416.0 805.8 418.1 808.4 419.8 C811.0 421.5 813.9 424.1 818.1 425.7 C822.3 427.3 828.6 428.8 833.8 429.6 C839.0 430.4 844.8 429.7 849.4 430.5 C854.0 431.3 857.9 434.0 861.1 434.5 C864.4 435.0 867.0 434.8 868.9 433.5 C870.8 432.2 870.8 428.1 872.8 426.6 C874.8 425.1 878.1 424.7 880.6 424.7 C883.1 424.7 886.9 425.8 887.5 426.6 C888.1 427.4 886.6 428.6 884.5 429.6 C882.4 430.6 877.1 431.0 874.8 432.5 C872.5 434.0 872.2 435.8 870.9 438.4 C869.6 441.0 868.0 444.9 867.0 448.1 C866.0 451.4 865.0 455.0 865.0 457.9 C865.0 460.8 867.3 463.1 867.0 465.7 C866.7 468.3 864.6 471.1 863.0 473.5 C861.4 475.9 859.5 478.4 857.2 480.4 C854.9 482.3 852.0 484.3 849.4 485.2 C846.8 486.1 843.5 485.1 841.6 485.6 C839.7 486.1 838.7 487.1 837.7 488.2 C836.7 489.3 838.0 490.6 835.7 492.1 C833.4 493.6 826.3 495.9 824.0 497.0 C821.7 498.1 821.4 497.6 822.0 498.9 C822.6 500.2 825.3 503.0 827.9 504.8 C830.5 506.6 834.8 508.6 837.7 509.6 C840.6 510.6 843.2 511.1 845.5 510.6 C847.8 510.1 849.3 507.7 851.3 506.7 C853.2 505.7 854.6 504.5 857.2 504.8 C859.8 505.1 863.1 508.1 867.0 508.7 C870.9 509.3 876.7 508.5 880.6 508.3 C884.5 508.1 887.1 507.3 890.4 507.7 C893.7 508.1 897.0 509.6 900.2 510.6 C903.5 511.6 907.0 513.3 909.9 513.6 C912.8 513.9 915.4 511.8 917.7 512.6 C920.0 513.4 922.0 516.3 923.6 518.4 C925.2 520.5 925.9 524.5 927.5 525.3 C929.1 526.1 931.7 524.8 933.4 523.3 C935.1 521.8 937.0 517.6 937.7 516.5"/>
<path d="M750.0 220.6 C750.3 220.3 749.1 219.7 751.7 219.1 C754.3 218.5 760.8 217.6 765.4 217.1 C770.0 216.6 774.9 216.9 779.1 216.1 C783.3 215.3 786.2 214.0 790.8 212.2 C795.3 210.4 801.2 207.7 806.4 205.4 C811.6 203.1 816.8 200.6 822.0 198.6 C827.2 196.6 833.1 194.7 837.7 193.7 C842.3 192.7 845.2 192.7 849.4 192.7 C853.6 192.7 858.8 192.7 863.0 193.7 C867.2 194.7 871.2 196.6 874.8 198.6 C878.4 200.6 882.2 205.2 884.5 205.4 C886.8 205.6 887.1 202.4 888.4 199.5 C889.7 196.6 891.0 190.6 892.3 187.8 C893.6 185.0 895.6 183.7 896.2 182.9"/>
<path d="M899.2 182.9 C899.7 183.0 901.0 183.6 902.1 183.5 C903.2 183.4 905.4 182.5 906.0 182.3"/>
<path d="M740.0 270.2 C742.0 269.6 747.5 268.3 751.7 266.9 C755.9 265.5 761.5 263.6 765.4 262.0 C769.3 260.4 772.3 257.9 775.2 257.1 C778.1 256.3 779.1 257.9 783.0 257.1 C786.9 256.3 793.4 254.2 798.6 252.3 C803.8 250.4 810.0 247.2 814.2 245.4 C818.4 243.6 820.4 242.1 824.0 241.5 C827.6 240.9 831.8 241.9 835.7 242.1 C839.6 242.3 845.6 244.1 847.4 242.5 C849.2 240.9 845.4 235.3 846.4 232.7 C847.4 230.1 850.8 229.6 853.3 226.9 C855.8 224.2 858.8 218.2 861.1 216.7 C863.4 215.2 864.4 216.1 867.0 218.1 C869.6 220.1 873.1 225.9 876.7 228.8 C880.3 231.7 884.8 233.1 888.4 235.7 C892.0 238.3 896.1 241.4 898.2 244.5 C900.3 247.6 899.8 252.2 901.1 254.2 C902.4 256.2 903.5 256.9 906.0 256.6 C908.5 256.3 912.5 253.8 915.8 252.3 C919.0 250.8 923.1 247.9 925.5 247.4 C927.9 246.9 929.2 247.5 930.4 249.3 C931.5 251.1 932.4 254.4 932.4 258.1 C932.4 261.9 930.4 268.5 930.4 271.8 C930.4 275.1 932.7 276.1 932.4 277.7 C932.1 279.3 928.3 280.0 928.5 281.6 C928.7 283.2 932.9 284.8 933.4 287.4 C933.9 290.0 932.9 294.6 931.4 297.2 C929.9 299.8 925.9 301.2 924.6 303.0 C923.3 304.8 922.1 307.1 923.6 307.9 C925.1 308.7 931.0 307.6 933.4 307.9 C935.8 308.2 937.0 309.6 937.7 309.9"/>
<path d="M153.9 465.7 C154.6 467.3 156.5 471.9 157.8 475.5 C159.1 479.1 160.6 482.6 161.7 487.2 C162.8 491.8 163.6 497.9 164.6 502.8 C165.6 507.7 165.8 512.9 167.6 516.5 C169.4 520.1 172.5 521.7 175.4 524.3 C178.3 526.9 181.9 529.2 185.2 532.1 C188.4 535.0 192.3 539.3 194.9 541.9 C197.5 544.5 197.5 545.5 200.8 547.8 C204.1 550.1 210.3 552.7 214.5 555.6 C218.7 558.5 222.9 562.1 226.2 565.4 C229.4 568.7 231.4 571.6 234.0 575.2 C236.6 578.8 239.2 583.3 241.8 586.9 C244.4 590.5 246.7 593.4 249.6 596.6 C252.5 599.9 255.8 604.0 259.4 606.4 C263.0 608.8 267.2 610.2 271.1 611.3 C275.0 612.4 278.9 612.9 282.8 613.2 C286.7 613.5 291.6 612.6 294.5 613.2 C297.4 613.9 298.4 615.3 300.4 617.1 C302.3 618.9 303.9 622.7 306.2 624.0 C308.5 625.3 311.5 625.3 314.1 625.0 C316.7 624.7 319.6 623.6 321.9 622.0 C324.2 620.4 325.1 616.5 327.7 615.2 C330.3 613.9 334.6 615.0 337.5 614.2 C340.4 613.4 343.2 611.6 345.3 610.3 C347.4 609.0 349.2 607.0 350.0 606.4"/>
<path d="M721.6 522.3 C722.6 521.6 725.2 519.0 727.5 518.4 C729.8 517.8 733.2 517.1 735.3 518.4 C737.4 519.7 739.2 524.9 740.0 526.2"/>
<path d="M727.5 518.4 C726.9 518.7 724.6 518.4 723.6 520.4 C722.6 522.4 721.3 526.6 721.6 530.2 C721.9 533.8 725.8 538.6 725.5 541.9 C725.2 545.1 721.8 547.6 719.7 549.7 C717.6 551.8 714.2 553.3 712.9 554.6 C711.6 555.9 710.8 556.7 711.9 557.5 C713.0 558.3 715.8 559.5 719.7 559.5 C723.6 559.5 731.9 558.0 735.3 557.5 C738.7 557.0 739.2 556.7 740.0 556.5"/>
<path d="M740.0 532.1 C741.3 531.5 744.5 529.2 747.8 528.2 C751.0 527.2 754.3 526.9 759.5 526.2 C764.7 525.6 772.6 524.9 779.1 524.3 C785.6 523.6 793.1 522.9 798.6 522.3 C804.1 521.6 807.4 520.1 812.3 520.4 C817.2 520.7 822.7 522.7 827.9 524.3 C833.1 525.9 839.0 528.7 843.5 530.2 C848.0 531.7 853.6 532.0 855.2 533.1 C856.8 534.2 855.6 536.2 853.3 537.0 C851.0 537.8 845.5 538.2 841.6 538.0 C837.7 537.8 833.7 536.5 829.8 536.0 C825.9 535.5 822.3 534.8 818.1 535.0 C813.9 535.2 808.4 536.2 804.5 537.0 C800.6 537.8 798.3 538.9 794.7 539.9 C791.1 540.9 786.9 541.9 783.0 542.9 C779.1 543.9 775.1 545.0 771.2 545.8 C767.3 546.6 763.4 547.1 759.5 547.7 C755.6 548.4 751.0 549.1 747.8 549.7 C744.5 550.4 741.3 551.3 740.0 551.6"/>
<path d="M230.1 674.8 C230.4 672.8 231.1 670.5 234.0 668.9 C236.9 667.3 242.5 665.8 247.7 665.0 C252.9 664.2 260.3 663.7 265.2 664.0 C270.1 664.3 273.1 665.5 277.0 667.0 C280.9 668.5 285.8 670.8 288.7 672.8 C291.6 674.8 294.2 676.4 294.5 678.7 C294.8 681.0 292.6 683.9 290.6 686.5 C288.7 689.1 285.7 692.4 282.8 694.3 C279.9 696.2 277.2 697.2 273.0 697.8 C268.8 698.4 261.6 698.2 257.4 697.8 C253.2 697.4 250.6 696.5 247.7 695.3 C244.8 694.1 242.4 692.8 239.8 690.4 C237.2 688.0 233.6 683.2 232.0 680.6 C230.4 678.0 229.8 676.8 230.1 674.8Z"/>
<path d="M286.7 704.5 C288.6 703.9 295.1 702.0 298.4 701.1 C301.6 700.2 303.3 700.8 306.2 699.2 C309.1 697.6 313.1 693.3 316.0 691.4 C318.9 689.5 321.2 688.1 323.8 687.9 C326.4 687.7 329.0 689.0 331.6 690.4 C334.2 691.8 336.9 694.2 339.5 696.2 C342.1 698.2 345.6 700.9 347.3 702.1 C349.1 703.4 349.6 703.4 350.0 703.7"/>
<path d="M153.9 665.0 C154.1 665.8 155.0 668.6 154.9 669.9 C154.8 671.2 153.7 672.3 153.5 672.8"/>
<path d="M153.9 680.6 C154.2 682.5 155.9 689.8 155.9 692.3 C155.9 694.8 154.2 694.8 153.9 695.3"/>
<path d="M340.0 698.2 C341.0 698.7 344.1 700.1 345.9 701.1 C347.7 702.1 349.9 703.9 350.7 704.5"/>
<path d="M537.3 704.5 C537.4 703.1 537.8 698.2 538.2 696.2 C538.7 694.2 539.7 692.9 540.0 692.3"/>
<path d="M625.9 598.6 C626.4 599.9 628.2 604.0 628.9 606.4 C629.5 608.8 628.3 612.9 629.8 613.2 C631.3 613.5 634.4 610.2 637.7 608.4 C641.0 606.6 646.1 604.0 649.4 602.5 C652.6 601.0 654.3 600.1 657.2 599.6 C660.1 599.1 663.8 599.1 667.0 599.6 C670.2 600.1 673.8 601.5 676.7 602.5 C679.6 603.5 681.6 603.6 684.5 605.4 C687.4 607.2 690.7 612.4 694.3 613.2 C697.9 614.0 701.8 611.1 706.0 610.3 C710.2 609.5 716.1 608.2 719.7 608.4 C723.3 608.6 726.4 609.8 727.5 611.3 C728.6 612.8 728.5 615.8 726.5 617.1 C724.5 618.4 720.2 618.6 715.8 619.1 C711.4 619.6 704.8 619.6 700.2 620.1 C695.6 620.6 690.9 621.0 688.4 622.0 C685.9 623.0 685.6 623.6 685.5 625.9 C685.4 628.2 687.7 632.4 687.5 635.7 C687.3 639.0 686.3 642.9 684.5 645.5 C682.7 648.1 680.6 650.2 676.7 651.3 C672.8 652.4 665.7 651.6 661.1 652.3 C656.5 652.9 654.0 654.1 649.4 655.2 C644.8 656.3 637.4 657.8 633.8 659.1 C630.2 660.4 629.9 661.7 627.9 663.0 C625.9 664.3 625.2 666.2 622.0 667.0 C618.8 667.8 613.3 667.4 608.4 667.9 C603.5 668.4 597.3 668.8 592.7 669.9 C588.1 671.0 583.3 673.3 581.0 674.8 C578.7 676.3 582.0 677.9 579.1 678.7 C576.2 679.5 567.3 679.0 563.4 679.6 C559.5 680.2 557.4 681.1 555.6 682.6 C553.8 684.1 553.2 686.1 552.7 688.4 C552.2 690.7 551.6 694.6 552.7 696.2 C553.8 697.8 556.7 698.5 559.5 698.2 C562.3 697.9 565.1 695.4 569.3 694.3 C573.5 693.2 580.0 692.2 584.9 691.4 C589.8 690.6 594.0 690.5 598.6 689.4 C603.2 688.2 609.4 684.3 612.3 684.5 C615.2 684.7 615.2 688.1 616.2 690.4 C617.2 692.7 618.1 695.9 618.1 698.2 C618.1 700.6 616.5 703.5 616.2 704.5"/>
<path d="M625.9 598.6 C627.9 598.1 634.1 596.0 637.7 595.7 C641.3 595.4 644.1 597.1 647.4 596.6 C650.6 596.1 654.3 594.0 657.2 592.7 C660.1 591.4 661.8 590.1 665.0 588.8 C668.2 587.5 672.8 585.8 676.7 584.9 C680.6 584.0 684.2 584.0 688.4 583.4 C692.6 582.8 697.5 581.4 702.1 581.0 C706.7 580.6 713.2 580.4 715.8 581.0 C718.4 581.6 717.9 583.6 717.7 584.9 C717.5 586.2 714.5 587.6 714.8 588.8 C715.1 590.0 716.9 591.9 719.7 592.3 C722.5 592.7 728.0 591.6 731.4 591.2 C734.8 590.8 738.6 590.0 740.0 589.8"/>
<path d="M711.9 551.7 C713.2 551.1 717.4 549.4 719.7 547.8 C722.0 546.2 724.2 543.3 725.5 542.0 C726.8 540.7 727.2 540.3 727.5 540.0"/>
<path d="M711.9 552.7 C712.2 553.4 711.8 555.6 713.8 556.6 C715.8 557.6 720.0 558.4 723.6 558.6 C727.2 558.8 732.6 557.9 735.3 557.6 C738.0 557.3 739.2 556.8 740.0 556.6"/>
<path d="M725.5 571.2 C725.8 572.0 725.9 575.4 727.5 576.1 C729.1 576.8 733.2 575.5 735.3 575.2 C737.4 574.9 739.2 574.4 740.0 574.2"/>
<path d="M740.0 635.7 C737.9 636.4 731.5 638.3 727.5 639.6 C723.5 640.9 720.0 641.5 715.8 643.5 C711.6 645.5 705.4 649.0 702.1 651.3 C698.8 653.6 696.5 655.2 696.2 657.2 C695.9 659.2 697.9 660.7 700.2 663.0 C702.5 665.3 706.6 668.6 709.9 670.9 C713.1 673.2 716.4 674.8 719.7 676.7 C723.0 678.7 727.2 680.0 729.5 682.6 C731.8 685.2 733.1 688.6 733.4 692.3 C733.7 695.9 731.7 702.5 731.4 704.5"/>
<path d="M740.0 649.4 C738.2 650.4 732.9 652.9 729.5 655.2 C726.1 657.5 721.7 660.7 719.7 663.0 C717.7 665.3 717.1 666.9 717.7 668.9 C718.4 670.9 721.3 672.8 723.6 674.8 C725.9 676.8 728.7 679.0 731.4 680.6 C734.1 682.2 738.6 683.9 740.0 684.5"/>
<path d="M540.0 694.3 C541.0 693.3 545.2 690.7 545.9 688.4 C546.5 686.1 544.5 682.5 543.9 680.6 C543.2 678.7 542.3 677.4 542.0 676.7"/>
<path d="M740.0 573.2 C741.6 572.6 746.5 570.4 749.8 569.3 C753.0 568.2 754.6 567.0 759.5 566.4 C764.4 565.8 773.9 565.6 779.1 565.4 C784.3 565.2 785.9 565.2 790.8 565.4 C795.7 565.6 803.2 567.0 808.4 566.4 C813.6 565.8 817.8 562.8 822.0 561.5 C826.2 560.2 829.9 558.8 833.8 558.6 C837.7 558.4 844.2 559.7 845.5 560.5 C846.8 561.3 843.9 562.1 841.6 563.4 C839.3 564.7 834.7 566.2 831.8 568.3 C828.9 570.4 826.9 573.6 824.0 576.1 C821.1 578.6 817.1 581.0 814.2 583.0 C811.3 585.0 809.0 587.4 806.4 587.9 C803.8 588.4 800.9 586.1 798.6 585.9 C796.3 585.7 794.0 585.8 792.7 586.9 C791.4 588.0 792.1 590.8 790.8 592.7 C789.5 594.7 787.2 596.3 784.9 598.6 C782.6 600.9 779.7 603.5 777.1 606.4 C774.5 609.3 772.2 613.6 769.3 616.2 C766.4 618.8 762.8 620.4 759.5 622.0 C756.2 623.6 752.4 624.3 749.8 625.9 C747.2 627.5 745.5 630.2 743.9 631.8 C742.3 633.4 740.6 635.1 740.0 635.7"/>
<path d="M740.0 591.8 C742.0 591.5 747.5 590.9 751.7 589.8 C755.9 588.6 761.2 587.3 765.4 584.9 C769.6 582.5 773.9 578.1 777.1 575.2 C780.4 572.3 783.6 568.6 784.9 567.3"/>
<path d="M740.0 647.4 C742.0 645.8 747.5 640.0 751.7 637.7 C755.9 635.4 760.8 635.3 765.4 633.8 C770.0 632.3 774.9 630.9 779.1 628.9 C783.3 626.9 787.5 623.8 790.8 622.0 C794.0 620.2 797.0 619.4 798.6 618.1 C800.2 616.8 800.8 615.5 800.5 614.2 C800.2 612.9 798.1 611.4 796.6 610.3 C795.1 609.2 792.4 609.0 791.8 607.4 C791.1 605.8 791.6 602.3 792.7 600.5 C793.8 598.7 795.7 597.2 798.6 596.6 C801.5 596.0 806.4 597.2 810.3 596.6 C814.2 596.0 818.1 594.3 822.0 592.7 C825.9 591.1 829.9 589.2 833.8 586.9 C837.7 584.6 841.6 581.5 845.5 579.1 C849.4 576.7 854.0 573.2 857.2 572.2 C860.5 571.2 861.8 573.4 865.0 573.2 C868.2 573.0 872.8 572.3 876.7 571.2 C880.6 570.1 884.2 568.0 888.4 566.4 C892.6 564.8 898.2 562.1 902.1 561.5 C906.0 560.9 908.3 561.9 911.9 562.5 C915.5 563.1 919.3 564.4 923.6 565.4 C927.9 566.4 935.4 567.8 937.7 568.3"/>
<path d="M874.8 633.8 C875.4 631.5 877.7 628.8 880.6 625.9 C883.5 623.0 888.1 619.3 892.3 616.2 C896.5 613.1 902.1 609.4 906.0 607.4 C909.9 605.4 911.9 605.1 915.8 604.5 C919.7 603.9 926.9 602.5 929.5 603.5 C932.1 604.5 931.4 607.2 931.4 610.3 C931.4 613.4 930.1 617.8 929.5 622.0 C928.9 626.2 928.2 632.4 927.5 635.7 C926.8 639.0 928.1 639.3 925.5 641.6 C922.9 643.9 916.4 647.1 911.9 649.4 C907.4 651.7 901.5 654.4 898.2 655.2 C894.9 656.0 894.6 655.4 892.3 654.3 C890.0 653.2 887.1 650.8 884.5 648.4 C881.9 646.0 878.3 642.0 876.7 639.6 C875.1 637.2 874.1 636.1 874.8 633.8Z"/>
<path d="M740.0 684.5 C741.3 685.1 745.5 686.4 747.8 688.4 C750.1 690.4 753.1 693.5 753.7 696.2 C754.4 698.9 752.0 703.1 751.7 704.5"/>
<path d="M909.9 704.5 C911.2 702.8 914.8 697.3 917.7 694.3 C920.6 691.3 924.2 688.5 927.5 686.5 C930.8 684.5 936.0 683.2 937.7 682.6"/>
<path d="M917.7 704.5 C919.3 703.6 924.2 701.2 927.5 699.2 C930.8 697.2 936.0 693.4 937.7 692.3"/>
</g>
<g clip-path="url(#pc0)">
<path d="M840.0 527.7 C837.8 526.8 831.2 523.4 826.9 522.2 C822.6 521.0 818.3 520.4 814.4 520.3 C810.5 520.2 807.0 520.6 803.4 521.4 C799.8 522.2 795.9 524.1 792.5 525.3 C789.1 526.5 786.2 527.5 783.1 528.4 C780.0 529.3 777.4 530.1 773.8 530.8 C770.1 531.4 764.9 531.9 761.2 532.3 C757.6 532.7 754.8 533.5 751.9 533.1 C749.0 532.7 746.3 531.2 744.1 530.0 C741.9 528.8 739.9 527.7 738.6 526.1 C737.3 524.5 737.1 522.0 736.2 520.6 C735.3 519.2 734.7 518.1 733.1 517.5 C731.5 516.9 728.7 516.8 726.9 517.2 C725.1 517.6 723.4 518.4 722.5 519.8 C721.6 521.1 720.9 523.3 721.4 525.3 C721.9 527.3 724.4 529.5 725.3 531.6 C726.2 533.7 726.9 536.0 726.9 537.8 C726.9 539.6 726.6 540.7 725.3 542.5 C724.0 544.3 721.2 547.1 719.1 548.8 C717.0 550.5 714.0 551.4 712.8 552.7 C711.6 554.0 711.0 555.7 712.0 556.6 C713.0 557.5 716.1 558.0 719.1 558.1 C722.1 558.2 726.1 557.9 730.0 557.3 C733.9 556.6 737.8 555.4 742.5 554.2 C747.2 553.0 752.4 551.6 758.1 550.3 C763.8 549.0 771.2 547.7 776.9 546.4 C782.6 545.1 787.8 543.5 792.5 542.5 C797.2 541.5 800.3 541.2 805.0 540.2 C809.7 539.2 814.8 537.4 820.6 536.2 C826.4 535.0 836.8 533.6 840.0 533.1"/>
<path d="M725.9 570.8 C724.7 572.0 724.7 573.7 725.2 574.7 C725.7 575.7 727.2 577.0 729.1 577.0 C731.0 577.0 734.3 575.5 736.9 574.7 C739.5 573.9 742.1 573.2 744.7 572.3 C747.3 571.4 749.9 570.1 752.5 569.2 C755.1 568.3 758.6 567.8 760.3 566.9 C762.0 566.0 762.7 564.8 762.7 563.8 C762.7 562.8 761.7 561.3 760.3 560.6 C758.9 559.9 756.5 559.5 754.1 559.8 C751.8 560.1 748.7 561.4 746.2 562.2 C743.7 563.0 741.5 563.6 739.2 564.5 C736.9 565.4 734.4 566.7 732.2 567.7 C730.0 568.8 727.1 569.6 725.9 570.8Z"/>
<path d="M680.0 583.1 C682.6 582.9 690.4 582.0 695.6 581.6 C700.8 581.2 707.6 580.7 711.2 580.8 C714.9 580.9 717.0 580.9 717.5 582.3 C718.0 583.7 713.9 587.7 714.4 589.4 C714.9 591.1 717.7 592.4 720.6 592.5 C723.5 592.6 727.4 591.0 731.6 590.2 C735.8 589.4 740.7 589.2 745.6 587.8 C750.5 586.4 756.5 583.7 761.2 581.6 C765.9 579.5 770.1 577.4 773.8 575.3 C777.4 573.2 780.5 570.7 783.1 569.1 C785.7 567.5 785.8 566.5 789.4 565.9 C793.0 565.2 799.8 565.7 805.0 565.2 C810.2 564.7 814.8 564.0 820.6 562.8 C826.4 561.6 836.8 558.9 840.0 558.1"/>
<path d="M789.4 600.0 C789.9 598.2 790.4 591.7 792.5 589.4 C794.6 587.1 798.5 586.5 801.9 586.2 C805.3 585.9 809.7 588.6 812.8 587.8 C815.9 587.0 818.0 583.9 820.6 581.6 C823.2 579.3 825.2 575.9 828.4 573.8 C831.6 571.7 838.1 569.9 840.0 569.1"/>
<path d="M795.6 600.0 C797.2 599.3 801.4 597.4 805.0 595.6 C808.6 593.8 813.6 591.5 817.5 589.4 C821.4 587.3 824.6 584.7 828.4 583.1 C832.1 581.5 838.1 580.5 840.0 580.0"/>
<path d="M840.0 486.2 C838.3 487.2 833.0 490.7 830.0 492.5 C827.0 494.3 823.0 495.4 822.2 497.2 C821.4 499.0 823.0 501.1 825.3 503.4 C827.6 505.7 833.8 509.6 836.2 511.2 C838.7 512.8 839.4 512.5 840.0 512.8"/>
</g>
</g>
<g fill="none" stroke="#0000ff" stroke-width="1.5">
<ellipse cx="711.9" cy="422.1" rx="6" ry="3" transform="rotate(-55 711.9 422.1)"/>
<ellipse cx="674.8" cy="543.4" rx="2.2" ry="3.2" transform="rotate(-20 674.8 543.4)"/>
<ellipse cx="577.1" cy="558.5" rx="7" ry="4" transform="rotate(30 577.1 558.5)"/>
<ellipse cx="912.9" cy="292.3" rx="3.7" ry="6.6" transform="rotate(0 912.9 292.3)"/>
<ellipse cx="870.3" cy="377.4" rx="6.8" ry="3" transform="rotate(-10 870.3 377.4)"/>
<ellipse cx="890.4" cy="520" rx="8.2" ry="5" transform="rotate(0 890.4 520)"/>
<ellipse cx="857.8" cy="553" rx="3.5" ry="2" transform="rotate(-20 857.8 553)"/>
<ellipse cx="678.3" cy="613.8" rx="4.3" ry="3" transform="rotate(-20 678.3 613.8)"/>
</g>
<g fill="#0000ff">
<circle cx="638.6" cy="538" r="1.3"/>
<circle cx="924.6" cy="291.3" r="1.3"/>
<circle cx="698.2" cy="600.2" r="1.3"/>
<circle cx="659.1" cy="695.3" r="1.3"/>
</g>
<g>
<rect x="418.3" y="220.3" width="47.4" height="21.8" fill="none" stroke="#5c5cff" stroke-width="0.9"/>
<text x="442.0" y="238.1" font-size="19" fill="#0000ff" style="fill:#0000ff" text-anchor="middle">1010</text>
<rect x="786.3" y="195.2" width="47.4" height="22.1" fill="none" stroke="#5c5cff" stroke-width="0.9"/>
<text x="810.0" y="213.0" font-size="19" fill="#0000ff" style="fill:#0000ff" text-anchor="middle">1010</text>
<rect x="559.5" y="499.5" width="47.7" height="21.1" fill="none" stroke="#5c5cff" stroke-width="0.9"/>
<text x="583.4" y="517.3" font-size="19" fill="#0000ff" style="fill:#0000ff" text-anchor="middle">1010</text>
<rect x="580.0" y="584.9" width="47.6" height="21.6" fill="none" stroke="#5c5cff" stroke-width="0.9"/>
<text x="603.8" y="602.7" font-size="19" fill="#0000ff" style="fill:#0000ff" text-anchor="middle">1010</text>
<rect x="743.9" y="525.3" width="47.4" height="21.7" fill="none" stroke="#5c5cff" stroke-width="0.9"/>
<text x="767.6" y="543.1" font-size="19" fill="#0000ff" style="fill:#0000ff" text-anchor="middle">1010</text>
<rect x="752.3" y="626.3" width="47.5" height="21.3" fill="none" stroke="#5c5cff" stroke-width="0.9"/>
<text x="776.0" y="644.1" font-size="19" fill="#0000ff" style="fill:#0000ff" text-anchor="middle">1010</text>
</g>
</g>
<g font-size="10.4">
<circle cx="281.3" cy="330.4" r="4.2" fill="#000"/>
<text x="285.9" y="334.0">Uralsk</text>
<circle cx="377.0" cy="371.0" r="4.2" fill="#000"/>
<text x="381.6" y="374.6">Aktobe</text>
<circle cx="490.2" cy="302.1" r="4.2" fill="#000"/>
<text x="494.8" y="305.7">Kostanay</text>
<circle cx="578.4" cy="262.1" r="4.2" fill="#000"/>
<text x="583.0" y="265.7">Petropavlovsk</text>
<circle cx="584.5" cy="300.0" r="4.2" fill="#000"/>
<text x="589.1" y="303.6">Kokshetau</text>
<circle cx="708.6" cy="317.3" r="4.2" fill="#000"/>
<text x="713.2" y="320.9">Pavlodar</text>
<circle cx="815.8" cy="362.2" r="4.2" fill="#000"/>
<text x="820.4" y="365.8">Ustkamen</text>
<circle cx="651.7" cy="390.5" r="4.2" fill="#000"/>
<text x="656.3" y="394.1">Karaganda</text>
<circle cx="558.2" cy="449.1" r="4.2" fill="#000"/>
<text x="562.8" y="452.7">Zheskazgan</text>
<circle cx="267.8" cy="440.3" r="4.2" fill="#000"/>
<text x="272.4" y="443.9">Atyrau</text>
<circle cx="236.5" cy="527.8" r="4.2" fill="#000"/>
<text x="241.1" y="531.4">Aktau</text>
<circle cx="516.4" cy="529.8" r="4.2" fill="#000"/>
<text x="521.0" y="533.4">Kyzylorda</text>
<circle cx="762.5" cy="508.7" r="4.2" fill="#000"/>
<text x="767.1" y="512.3">Taldykorgan</text>
<circle cx="630.4" cy="579.1" r="4.2" fill="#000"/>
<text x="635.0" y="582.7">Taraz</text>
<circle cx="599.6" cy="597.0" r="4.2" fill="#000"/>
<text x="604.2" y="600.6">Shymkent</text>
</g>
<path d="M619.9 349.5 L621.7 353.3 L625.8 353.8 L622.8 356.6 L623.5 360.7 L619.9 358.7 L616.3 360.7 L617.0 356.6 L614.0 353.8 L618.1 353.3Z" fill="#ff0000"/>
<path d="M619.9 352.7 L620.8 354.6 L622.8 354.8 L621.3 356.2 L621.7 358.3 L619.9 357.2 L618.1 358.3 L618.5 356.2 L617.0 354.8 L619.0 354.6Z" fill="#fff"/>
<text x="626.4" y="359.3" font-size="12" font-weight="bold">Astana</text>
<path d="M740.3 555.0 L742.1 558.8 L746.2 559.3 L743.2 562.1 L743.9 566.2 L740.3 564.2 L736.7 566.2 L737.4 562.1 L734.4 559.3 L738.5 558.8Z" fill="#ff0000"/>
<path d="M740.3 558.2 L741.2 560.1 L743.2 560.3 L741.7 561.7 L742.1 563.8 L740.3 562.8 L738.5 563.8 L738.9 561.7 L737.4 560.3 L739.4 560.1Z" fill="#fff"/>
<text x="746.8" y="564.8" font-size="12" font-weight="bold">Almaty</text>
<rect x="153.5" y="182.8" width="784.1" height="521.6" fill="none" stroke="#000" stroke-width="1.2"/>
<g stroke="#000" stroke-width="1.2" fill="none">
<path d="M137.8 217.3H153.5M137.8 274.5H153.5M137.8 330.7H153.5M137.8 387.3H153.5M137.8 443.3H153.5M137.8 499.5H153.5M137.8 554.9H153.5M137.8 611.4H153.5M137.8 667.9H153.5"/>
<path d="M174.4 704.4V720.2M285.9 704.4V720.2M394.9 704.4V720.2M502.7 704.4V720.2M609.5 704.4V720.2M717.7 704.4V720.2M827.1 704.4V720.2"/>
</g>
<g font-size="18.5" text-anchor="end">
<text x="126.3" y="224">54°N</text>
<text x="126.3" y="281.2">52°N</text>
<text x="126.3" y="337.4">50°N</text>
<text x="126.3" y="394">48°N</text>
<text x="126.3" y="450">46°N</text>
<text x="126.3" y="506.2">44°N</text>
<text x="126.3" y="561.6">42°N</text>
<text x="126.3" y="618.1">40°N</text>
<text x="126.3" y="674.6">38°N</text>
</g>
<g font-size="18.5" text-anchor="middle">
<text x="174.4" y="746.7">50°E</text>
<text x="285.9" y="746.7">55°E</text>
<text x="394.9" y="746.7">60°E</text>
<text x="502.7" y="746.7">65°E</text>
<text x="609.5" y="746.7">70°E</text>
<text x="717.7" y="746.7">75°E</text>
<text x="827.1" y="746.7">80°E</text>
</g>
<g>
<rect x="295.6" y="820.3" width="83.3" height="27.3" fill="#330066"/>
<rect x="378.9" y="820.3" width="83.3" height="27.3" fill="#003399"/>
<rect x="462.2" y="820.3" width="83.3" height="27.3" fill="#0066cc"/>
<rect x="545.5" y="820.3" width="83.3" height="27.3" fill="#3399ff"/>
<rect x="628.8" y="820.3" width="83.3" height="27.3" fill="#99ccff"/>
<rect x="712.1" y="820.3" width="83.3" height="27.3" fill="#fff"/>
<g stroke="#000" stroke-width="1" fill="none">
<rect x="295.6" y="820.3" width="499.8" height="27.3"/>
<path d="M378.9 820.3V847.6M462.2 820.3V847.6M545.5 820.3V847.6M628.8 820.3V847.6M712.1 820.3V847.6"/>
</g>
<text x="545.5" y="808.5" font-size="15.3" text-anchor="middle">Surface Air Temperature (C)</text>
<g font-size="12.8" text-anchor="middle">
<text x="379" y="877.8">-40</text>
<text x="462.2" y="877.8">-35</text>
<text x="545.5" y="877.8">-30</text>
<text x="628.8" y="877.8">-25</text>
<text x="712.1" y="877.8">-20</text>
</g>
</g>
</svg>
</body></html>
